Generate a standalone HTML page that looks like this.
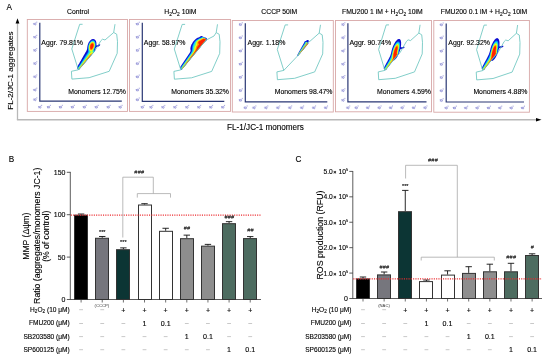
<!DOCTYPE html>
<html><head><meta charset="utf-8"><style>
html,body{margin:0;padding:0;background:#fff;width:550px;height:360px;overflow:hidden}
svg{display:block;will-change:transform}
text{font-family:"Liberation Sans", sans-serif;stroke:#000;stroke-width:0.12px}
</style></head><body>
<svg width="550" height="360" viewBox="0 0 550 360">
<defs><filter id="soft" x="-20%" y="-20%" width="140%" height="140%"><feGaussianBlur stdDeviation="0.35"/></filter></defs>
<rect width="550" height="360" fill="#fff"/>
<text x="6.5" y="10.3" font-size="8.2">A</text>
<line x1="17.5" y1="120" x2="17.5" y2="22" stroke="#b8b8b8" stroke-width="1.3"/>
<polygon points="15.6,23.5 19.4,23.5 17.5,18.2" fill="#000"/>
<line x1="16.9" y1="119.8" x2="537" y2="119.8" stroke="#b8b8b8" stroke-width="1.5"/>
<polygon points="536,118.1 541.5,119.8 536,121.5" fill="#000"/>
<text transform="translate(12.8,70.6) rotate(-90)" font-size="8.05" text-anchor="middle">FL-2/JC-1 aggregates</text>
<text x="265.5" y="129.6" font-size="8.15" text-anchor="middle">FL-1/JC-1 monomers</text>
<rect x="27.3" y="19.5" width="100.20" height="91.90" fill="none" stroke="#d8a7a7" stroke-width="0.9"/>
<text x="78" y="14.3" font-size="6.8" text-anchor="middle">Control</text>
<g fill="none" stroke="#6262c4" stroke-width="0.55"><path d="M33.45,99.15 L33.95,98.65 L33.95,100.75"/><ellipse cx="35.35" cy="99.70" rx="0.72" ry="1.02"/><path d="M36.75,97.30 L36.75,98.50"/><path d="M33.45,89.45 L33.95,88.95 L33.95,91.05"/><ellipse cx="35.35" cy="90.00" rx="0.72" ry="1.02"/><path d="M36.75,87.60 L36.75,88.80"/><path d="M33.45,76.25 L33.95,75.75 L33.95,77.85"/><ellipse cx="35.35" cy="76.80" rx="0.72" ry="1.02"/><path d="M36.75,74.40 L36.75,75.60"/><path d="M33.45,63.05 L33.95,62.55 L33.95,64.65"/><ellipse cx="35.35" cy="63.60" rx="0.72" ry="1.02"/><path d="M36.75,61.20 L36.75,62.40"/><path d="M33.45,49.85 L33.95,49.35 L33.95,51.45"/><ellipse cx="35.35" cy="50.40" rx="0.72" ry="1.02"/><path d="M36.75,48.00 L36.75,49.20"/><path d="M33.45,36.65 L33.95,36.15 L33.95,38.25"/><ellipse cx="35.35" cy="37.20" rx="0.72" ry="1.02"/><path d="M36.75,34.80 L36.75,36.00"/><path d="M33.45,23.45 L33.95,22.95 L33.95,25.05"/><ellipse cx="35.35" cy="24.00" rx="0.72" ry="1.02"/><path d="M36.75,21.60 L36.75,22.80"/><path d="M38.35,106.65 L38.85,106.15 L38.85,108.25"/><ellipse cx="40.25" cy="107.20" rx="0.72" ry="1.02"/><path d="M41.65,104.80 L41.65,106.00"/><path d="M47.05,106.65 L47.55,106.15 L47.55,108.25"/><ellipse cx="48.95" cy="107.20" rx="0.72" ry="1.02"/><path d="M50.35,104.80 L50.35,106.00"/><path d="M59.00,106.65 L59.50,106.15 L59.50,108.25"/><ellipse cx="60.90" cy="107.20" rx="0.72" ry="1.02"/><path d="M62.30,104.80 L62.30,106.00"/><path d="M70.95,106.65 L71.45,106.15 L71.45,108.25"/><ellipse cx="72.85" cy="107.20" rx="0.72" ry="1.02"/><path d="M74.25,104.80 L74.25,106.00"/><path d="M82.90,106.65 L83.40,106.15 L83.40,108.25"/><ellipse cx="84.80" cy="107.20" rx="0.72" ry="1.02"/><path d="M86.20,104.80 L86.20,106.00"/><path d="M94.85,106.65 L95.35,106.15 L95.35,108.25"/><ellipse cx="96.75" cy="107.20" rx="0.72" ry="1.02"/><path d="M98.15,104.80 L98.15,106.00"/><path d="M106.80,106.65 L107.30,106.15 L107.30,108.25"/><ellipse cx="108.70" cy="107.20" rx="0.72" ry="1.02"/><path d="M110.10,104.80 L110.10,106.00"/><path d="M118.75,106.65 L119.25,106.15 L119.25,108.25"/><ellipse cx="120.65" cy="107.20" rx="0.72" ry="1.02"/><path d="M122.05,104.80 L122.05,106.00"/></g>
<path d="M39.80,22.70 L39.80,101.20 L121.80,101.20" fill="none" stroke="#2a3774" stroke-width="1.2"/>
<g filter="url(#soft)">
<path fill="#0c0cd0" d="M94.60,39.40 L93.50,39.00 L92.80,39.00 L92.70,39.10 L92.00,39.20 L91.40,39.50 L90.80,39.90 L89.70,41.00 L88.70,42.50 L88.40,43.10 L88.40,43.30 L88.10,43.80 L88.10,44.00 L87.70,45.00 L87.60,45.80 L87.50,45.90 L87.50,46.30 L87.40,46.40 L87.40,46.90 L87.30,47.00 L87.10,49.00 L87.00,49.10 L87.00,49.40 L86.90,49.50 L86.80,50.00 L86.10,51.40 L85.50,52.30 L85.20,53.00 L85.00,53.20 L84.80,53.70 L84.60,53.90 L84.40,54.40 L84.20,54.60 L84.00,55.10 L83.80,55.30 L83.60,55.80 L83.00,56.70 L82.70,57.40 L82.50,57.60 L82.30,58.10 L82.10,58.30 L81.90,58.80 L81.70,59.00 L81.50,59.50 L81.30,59.70 L81.10,60.20 L80.90,60.40 L80.70,60.90 L80.50,61.10 L80.30,61.60 L80.10,61.80 L79.00,63.90 L78.80,64.10 L78.60,64.60 L78.40,64.80 L78.20,65.30 L78.00,65.50 L77.80,66.00 L77.60,66.20 L77.40,66.70 L77.00,67.30 L77.00,67.90 L77.30,68.50 L78.60,69.90 L78.90,69.80 L79.70,69.00 L80.20,68.30 L80.80,67.70 L81.30,67.00 L81.90,66.40 L82.40,65.70 L83.00,65.10 L83.50,64.40 L84.10,63.80 L84.60,63.10 L85.20,62.50 L85.70,61.80 L86.30,61.20 L86.80,60.50 L87.40,59.90 L87.90,59.20 L88.50,58.60 L88.50,58.50 L91.80,54.70 L91.80,54.60 L94.50,51.40 L95.40,50.00 L95.40,49.80 L95.30,49.70 L95.30,49.00 L96.00,47.60 L96.70,47.00 L97.90,46.70 L98.90,46.20 L99.60,45.70 L100.20,44.90 L100.20,44.50 L99.90,44.30 L99.40,44.30 L99.30,44.40 L99.00,44.40 L98.40,44.70 L98.20,44.70 L98.00,44.90 L97.50,45.10 L97.10,45.40 L96.70,45.40 L96.50,45.20 L96.50,44.90 L96.40,44.80 L96.40,42.80 L96.30,42.70 L96.30,42.30 L96.20,42.20 L96.10,41.50 L95.50,40.30Z"/>
<path fill="#0090ff" d="M94.10,40.60 L93.40,40.30 L92.40,40.30 L91.30,40.80 L90.10,41.90 L89.30,43.10 L88.80,44.20 L88.80,44.40 L88.40,45.40 L88.40,45.80 L88.30,45.90 L88.30,46.30 L88.20,46.40 L88.20,47.10 L88.10,47.20 L88.10,51.30 L88.00,51.40 L87.90,51.90 L87.40,52.90 L86.70,53.90 L86.60,54.20 L85.80,55.30 L85.70,55.60 L84.70,57.00 L84.60,57.30 L83.80,58.40 L83.70,58.70 L82.70,60.10 L82.60,60.40 L81.80,61.50 L81.70,61.80 L80.70,63.20 L80.60,63.50 L77.80,67.70 L77.80,68.40 L78.20,69.10 L78.70,69.70 L79.10,69.50 L79.40,69.20 L79.40,69.10 L82.70,65.30 L83.20,64.60 L83.80,64.00 L83.80,63.90 L84.40,63.30 L84.40,63.20 L87.70,59.40 L88.20,58.70 L88.80,58.10 L89.30,57.40 L89.90,56.80 L90.40,56.10 L91.00,55.50 L91.00,55.40 L92.50,53.70 L92.50,53.60 L92.90,53.20 L92.90,53.10 L93.30,52.70 L94.60,50.90 L94.30,50.50 L94.30,49.50 L94.40,49.40 L94.60,48.60 L94.90,48.10 L94.90,47.90 L95.30,47.10 L95.30,46.80 L95.50,46.30 L95.50,45.60 L95.60,45.50 L95.60,43.50 L95.50,43.40 L95.40,42.50 L94.90,41.40Z"/>
<path fill="#20e0f0" d="M94.00,41.20 L93.40,40.90 L92.30,40.90 L91.40,41.30 L90.20,42.40 L89.70,43.30 L89.50,43.50 L88.80,45.30 L88.70,46.10 L88.60,46.20 L88.60,46.70 L88.50,46.80 L88.50,49.20 L88.60,49.30 L88.60,49.90 L88.70,50.00 L88.70,50.60 L88.80,50.70 L88.80,52.00 L88.70,52.10 L88.70,52.30 L88.20,53.30 L86.90,55.30 L86.60,55.60 L85.60,57.20 L85.30,57.50 L84.30,59.10 L84.00,59.40 L83.00,61.00 L82.70,61.30 L81.70,62.90 L81.40,63.20 L80.60,64.50 L80.30,64.80 L79.50,66.10 L79.20,66.40 L78.10,68.10 L78.10,68.50 L78.40,69.10 L78.80,69.60 L79.60,68.90 L79.60,68.80 L80.20,68.20 L80.20,68.10 L83.50,64.30 L84.00,63.60 L84.60,63.00 L85.10,62.30 L85.70,61.70 L86.20,61.00 L86.80,60.40 L87.30,59.70 L87.90,59.10 L88.40,58.40 L89.00,57.80 L89.50,57.10 L90.10,56.50 L90.60,55.80 L91.20,55.20 L91.20,55.10 L93.40,52.50 L94.10,51.50 L93.70,50.90 L93.70,50.00 L93.80,49.90 L94.00,49.10 L94.20,48.80 L94.20,48.60 L94.80,47.40 L95.00,46.40 L95.10,46.30 L95.10,45.80 L95.20,45.70 L95.20,43.50 L95.10,43.40 L95.10,43.10 L95.00,43.00 L95.00,42.70 L94.80,42.40 L94.80,42.20 L94.40,41.60Z"/>
<path fill="#80ff60" d="M93.70,41.70 L93.30,41.50 L92.50,41.40 L91.50,41.80 L90.40,42.80 L89.80,43.70 L89.10,45.50 L89.10,45.90 L89.00,46.00 L89.00,46.40 L88.90,46.50 L88.90,48.80 L89.00,48.90 L89.00,49.40 L89.10,49.50 L89.20,50.20 L89.30,50.30 L89.30,50.50 L89.60,51.20 L89.60,51.50 L89.70,51.60 L89.70,52.30 L89.60,52.40 L89.60,52.60 L89.30,53.20 L88.10,55.00 L87.50,55.70 L86.30,57.50 L85.70,58.20 L85.50,58.60 L83.10,61.80 L82.40,62.90 L81.80,63.60 L81.60,64.00 L81.00,64.70 L80.30,65.80 L78.40,68.30 L78.50,68.90 L78.90,69.50 L79.80,68.60 L79.80,68.50 L80.40,67.90 L80.40,67.80 L82.60,65.30 L83.10,64.60 L83.70,64.00 L83.70,63.90 L84.30,63.30 L84.30,63.20 L86.50,60.70 L87.00,60.00 L87.60,59.40 L88.10,58.70 L88.70,58.10 L89.20,57.40 L89.80,56.80 L90.30,56.10 L90.90,55.50 L90.90,55.40 L91.90,54.30 L91.90,54.20 L92.30,53.80 L93.60,52.00 L93.30,51.90 L92.90,51.40 L92.90,50.80 L93.00,50.70 L93.10,50.20 L93.40,49.70 L93.40,49.50 L93.80,48.80 L93.80,48.60 L94.40,47.40 L94.40,47.20 L94.60,46.80 L94.60,46.50 L94.70,46.40 L94.70,46.10 L94.80,46.00 L94.80,45.20 L94.90,45.10 L94.90,44.30 L94.80,44.20 L94.80,43.60 L94.70,43.50 L94.60,42.90 L94.20,42.20Z"/>
<path fill="#ffff10" d="M93.10,52.60 L92.30,52.50 L91.80,52.30 L91.40,52.30 L91.20,52.40 L89.60,54.00 L89.40,54.40 L84.60,60.80 L84.20,61.20 L81.80,64.50 L81.40,64.90 L79.60,67.40 L78.70,68.50 L78.70,68.90 L78.90,69.30 L79.10,69.30 L79.60,68.80 L80.10,68.10 L80.70,67.50 L81.20,66.80 L81.80,66.20 L82.30,65.50 L82.90,64.90 L83.40,64.20 L84.00,63.60 L84.50,62.90 L85.10,62.30 L85.60,61.60 L86.20,61.00 L86.70,60.30 L87.30,59.70 L87.80,59.00 L90.60,55.80 L90.60,55.70 L92.10,54.00Z M93.00,42.00 L92.20,42.00 L92.10,42.10 L91.90,42.10 L90.90,42.80 L90.10,43.90 L89.80,44.50 L89.80,44.70 L89.60,45.00 L89.60,45.30 L89.40,45.70 L89.40,46.10 L89.30,46.20 L89.30,46.80 L89.20,46.90 L89.20,48.00 L89.30,48.10 L89.30,48.70 L89.40,48.80 L89.40,49.20 L89.50,49.30 L89.60,49.80 L90.10,50.70 L90.80,51.40 L91.20,51.60 L91.50,51.50 L92.10,50.90 L92.90,49.70 L94.00,47.50 L94.00,47.30 L94.20,47.00 L94.30,46.30 L94.40,46.20 L94.40,45.80 L94.50,45.70 L94.50,44.20 L94.40,44.10 L94.40,43.70 L94.30,43.60 L94.20,43.10 L93.60,42.30Z"/>
<path fill="#ff9a00" d="M92.50,53.30 L91.50,53.50 L90.80,53.90 L90.20,54.40 L88.40,56.80 L87.60,57.70 L87.30,58.20 L86.50,59.10 L86.20,59.60 L85.40,60.50 L85.10,61.00 L84.70,61.40 L83.60,62.90 L82.40,64.30 L82.10,64.80 L80.90,66.20 L80.60,66.70 L79.00,68.60 L78.90,68.80 L79.00,69.20 L79.10,69.20 L79.80,68.50 L80.30,67.80 L81.50,66.50 L82.00,65.80 L82.60,65.20 L83.10,64.50 L83.70,63.90 L84.20,63.20 L84.80,62.60 L85.30,61.90 L85.90,61.30 L86.40,60.60 L87.00,60.00 L87.50,59.30 L90.30,56.10 L90.30,56.00 L92.20,53.80Z M92.70,42.60 L92.30,42.60 L91.40,43.00 L90.80,43.60 L90.10,44.80 L90.10,45.00 L89.80,45.70 L89.70,46.90 L89.60,47.00 L89.70,48.40 L90.10,49.50 L90.40,49.90 L90.80,50.20 L91.50,50.20 L91.90,50.00 L92.40,49.50 L92.90,48.80 L93.70,47.20 L93.70,47.00 L93.90,46.60 L94.00,45.70 L94.10,45.60 L94.10,44.50 L94.00,44.40 L94.00,44.00 L93.70,43.30 L93.20,42.80Z"/>
<path fill="#ff2200" d="M91.80,54.10 L91.20,54.40 L90.50,55.00 L90.50,55.10 L90.00,55.60 L90.00,55.70 L88.30,57.70 L87.90,58.30 L87.40,58.80 L86.60,59.90 L86.10,60.40 L86.10,60.50 L83.40,63.70 L83.00,64.30 L82.50,64.80 L82.10,65.40 L79.30,68.70 L79.20,69.10 L81.60,66.30 L81.60,66.20 L82.80,64.90 L83.30,64.20 L83.90,63.60 L84.40,62.90 L85.00,62.30 L85.50,61.60 L86.10,61.00 L86.60,60.30 L87.20,59.70 L87.70,59.00 L88.30,58.40 L88.80,57.70 L90.00,56.40 L90.00,56.30 L91.50,54.60Z M92.70,43.50 L92.00,43.50 L91.60,43.70 L90.80,44.60 L90.30,45.80 L90.30,46.20 L90.20,46.30 L90.20,47.90 L90.50,48.70 L91.00,49.20 L91.60,49.20 L92.40,48.50 L93.20,47.00 L93.20,46.80 L93.50,46.10 L93.50,44.60 L93.20,43.90Z"/>
</g>
<g transform="translate(39.8,101.2) scale(1.0,1)">
<polyline points="42.80,-76.90 39.90,-76.90 32.00,-52.30 38.50,-31.40" fill="none" stroke="#62c2bb" stroke-width="0.8" vector-effect="non-scaling-stroke"/>
<polyline points="38.50,-31.40 54.50,-49.50 58.50,-56.20 61.00,-60.40 62.70,-62.00 65.20,-61.20 73.90,-68.70" fill="none" stroke="#62c2bb" stroke-width="0.8" vector-effect="non-scaling-stroke"/>
<polyline points="73.90,-68.70 75.20,-77.00" fill="none" stroke="#62c2bb" stroke-width="0.8" vector-effect="non-scaling-stroke"/>
<polyline points="38.50,-31.40 31.60,-29.90 32.10,-22.10 49.30,-23.50 69.40,-29.90 77.40,-47.90 77.70,-59.50 76.90,-67.00 73.90,-68.70" fill="none" stroke="#62c2bb" stroke-width="0.8" vector-effect="non-scaling-stroke"/>
</g>
<text x="41.3" y="45.1" font-size="6.95">Aggr. 79.81%</text>
<text x="126" y="93.8" font-size="6.9" text-anchor="end">Monomers 12.75%</text>
<rect x="129.5" y="19.5" width="101.00" height="91.90" fill="none" stroke="#d8a7a7" stroke-width="0.9"/>
<text x="180.3" y="14.3" font-size="6.8" text-anchor="middle">H<tspan font-size="4.8" dy="1.6">2</tspan><tspan dy="-1.6">O</tspan><tspan font-size="4.8" dy="1.6">2</tspan><tspan dy="-1.6"> 10iM</tspan></text>
<g fill="none" stroke="#6262c4" stroke-width="0.55"><path d="M135.95,99.25 L136.45,98.75 L136.45,100.85"/><ellipse cx="137.85" cy="99.80" rx="0.72" ry="1.02"/><path d="M139.25,97.40 L139.25,98.60"/><path d="M135.95,89.55 L136.45,89.05 L136.45,91.15"/><ellipse cx="137.85" cy="90.10" rx="0.72" ry="1.02"/><path d="M139.25,87.70 L139.25,88.90"/><path d="M135.95,76.35 L136.45,75.85 L136.45,77.95"/><ellipse cx="137.85" cy="76.90" rx="0.72" ry="1.02"/><path d="M139.25,74.50 L139.25,75.70"/><path d="M135.95,63.15 L136.45,62.65 L136.45,64.75"/><ellipse cx="137.85" cy="63.70" rx="0.72" ry="1.02"/><path d="M139.25,61.30 L139.25,62.50"/><path d="M135.95,49.95 L136.45,49.45 L136.45,51.55"/><ellipse cx="137.85" cy="50.50" rx="0.72" ry="1.02"/><path d="M139.25,48.10 L139.25,49.30"/><path d="M135.95,36.75 L136.45,36.25 L136.45,38.35"/><ellipse cx="137.85" cy="37.30" rx="0.72" ry="1.02"/><path d="M139.25,34.90 L139.25,36.10"/><path d="M135.95,23.55 L136.45,23.05 L136.45,25.15"/><ellipse cx="137.85" cy="24.10" rx="0.72" ry="1.02"/><path d="M139.25,21.70 L139.25,22.90"/><path d="M140.85,106.75 L141.35,106.25 L141.35,108.35"/><ellipse cx="142.75" cy="107.30" rx="0.72" ry="1.02"/><path d="M144.15,104.90 L144.15,106.10"/><path d="M149.55,106.75 L150.05,106.25 L150.05,108.35"/><ellipse cx="151.45" cy="107.30" rx="0.72" ry="1.02"/><path d="M152.85,104.90 L152.85,106.10"/><path d="M161.50,106.75 L162.00,106.25 L162.00,108.35"/><ellipse cx="163.40" cy="107.30" rx="0.72" ry="1.02"/><path d="M164.80,104.90 L164.80,106.10"/><path d="M173.45,106.75 L173.95,106.25 L173.95,108.35"/><ellipse cx="175.35" cy="107.30" rx="0.72" ry="1.02"/><path d="M176.75,104.90 L176.75,106.10"/><path d="M185.40,106.75 L185.90,106.25 L185.90,108.35"/><ellipse cx="187.30" cy="107.30" rx="0.72" ry="1.02"/><path d="M188.70,104.90 L188.70,106.10"/><path d="M197.35,106.75 L197.85,106.25 L197.85,108.35"/><ellipse cx="199.25" cy="107.30" rx="0.72" ry="1.02"/><path d="M200.65,104.90 L200.65,106.10"/><path d="M209.30,106.75 L209.80,106.25 L209.80,108.35"/><ellipse cx="211.20" cy="107.30" rx="0.72" ry="1.02"/><path d="M212.60,104.90 L212.60,106.10"/><path d="M221.25,106.75 L221.75,106.25 L221.75,108.35"/><ellipse cx="223.15" cy="107.30" rx="0.72" ry="1.02"/><path d="M224.55,104.90 L224.55,106.10"/></g>
<path d="M142.30,22.80 L142.30,101.30 L224.30,101.30" fill="none" stroke="#2a3774" stroke-width="1.2"/>
<g filter="url(#soft)">
<path fill="#0c0cd0" d="M206.40,38.00 L205.90,37.70 L205.70,37.70 L205.30,37.50 L204.50,37.40 L201.80,35.90 L200.90,35.90 L200.30,36.50 L199.50,37.10 L198.90,37.40 L198.10,37.60 L196.30,38.60 L195.50,39.30 L195.40,39.30 L193.50,41.30 L192.50,42.70 L191.90,43.90 L191.70,44.10 L190.80,46.30 L190.80,46.60 L190.70,46.70 L190.70,47.00 L190.50,47.50 L190.50,48.20 L190.40,48.30 L190.40,49.20 L190.50,49.30 L190.50,49.80 L190.60,49.90 L190.60,50.80 L190.50,50.90 L190.40,51.50 L189.80,52.70 L180.40,66.80 L180.40,67.00 L180.20,67.40 L180.20,68.10 L180.50,68.70 L181.40,69.70 L181.70,69.70 L182.70,68.70 L182.70,68.60 L183.70,67.50 L184.10,66.90 L184.60,66.40 L185.00,65.80 L185.50,65.30 L185.90,64.70 L187.80,62.50 L188.20,61.90 L188.70,61.40 L189.10,60.80 L191.00,58.60 L191.40,58.00 L191.90,57.50 L192.30,56.90 L192.80,56.40 L192.80,56.30 L195.10,53.60 L195.10,53.50 L196.00,52.50 L196.40,51.90 L197.90,50.20 L198.30,49.60 L198.80,49.10 L199.20,48.50 L199.70,48.00 L200.10,47.40 L200.60,46.90 L200.60,46.80 L202.40,44.70 L202.80,44.10 L203.40,43.50 L203.40,43.40 L204.80,42.00 L205.40,41.60 L206.30,40.70 L206.60,40.30 L206.90,39.60 L206.90,38.70 L206.70,38.30Z"/>
<path fill="#0090ff" d="M205.40,38.40 L204.50,37.90 L204.30,37.70 L203.10,37.10 L202.90,37.10 L202.50,36.90 L201.80,36.90 L200.70,37.70 L200.00,38.00 L199.60,38.30 L199.40,38.30 L198.00,39.00 L197.80,39.20 L196.60,39.80 L195.70,40.60 L195.60,40.60 L194.50,41.80 L193.50,43.30 L192.70,44.90 L192.70,45.10 L192.40,45.70 L192.40,46.00 L192.20,46.50 L192.20,47.00 L192.10,47.10 L192.10,49.50 L192.00,49.60 L191.90,50.70 L191.80,50.80 L191.60,51.60 L190.80,53.10 L189.40,55.20 L189.10,55.50 L186.70,59.10 L186.40,59.40 L185.10,61.40 L184.80,61.70 L184.40,62.40 L184.10,62.70 L183.70,63.40 L183.40,63.70 L182.80,64.70 L182.50,65.00 L182.10,65.70 L181.20,66.90 L181.00,67.30 L181.00,68.30 L181.20,68.80 L181.60,69.40 L181.80,69.40 L182.20,69.10 L183.00,68.20 L183.40,67.60 L185.30,65.40 L185.70,64.80 L186.20,64.30 L186.60,63.70 L188.50,61.50 L188.50,61.40 L190.30,59.30 L190.70,58.70 L191.70,57.60 L191.70,57.50 L193.50,55.40 L193.90,54.80 L194.90,53.70 L194.90,53.60 L195.80,52.60 L196.20,52.00 L197.20,50.90 L197.60,50.30 L200.40,47.00 L200.40,46.90 L202.20,44.80 L202.60,44.20 L205.70,40.60 L206.20,39.90 L206.40,39.50 L206.40,39.30Z"/>
<path fill="#20e0f0" d="M206.30,39.30 L204.30,37.90 L202.80,37.30 L202.30,37.30 L201.40,37.90 L200.00,38.60 L199.80,38.60 L197.70,39.70 L196.40,40.60 L195.30,41.70 L194.60,42.70 L193.60,44.70 L193.60,44.90 L193.30,45.60 L193.20,46.40 L193.10,46.50 L193.10,46.90 L193.00,47.00 L193.00,47.60 L192.90,47.70 L192.80,49.70 L192.70,49.80 L192.60,50.80 L192.30,51.40 L192.30,51.60 L191.80,52.60 L191.40,53.10 L190.90,54.00 L190.60,54.30 L190.20,55.00 L189.40,56.00 L187.80,58.40 L187.50,58.70 L187.30,59.10 L187.00,59.40 L186.80,59.80 L185.50,61.50 L185.10,62.20 L184.80,62.50 L184.60,62.90 L184.30,63.20 L184.10,63.60 L183.80,63.90 L183.60,64.30 L183.30,64.60 L183.10,65.00 L182.80,65.30 L182.60,65.70 L181.40,67.30 L181.40,67.50 L181.30,67.60 L181.30,68.20 L181.40,68.30 L181.50,68.80 L181.80,69.30 L182.70,68.50 L183.10,67.90 L183.60,67.40 L183.60,67.30 L184.10,66.80 L184.10,66.70 L185.90,64.60 L186.30,64.00 L188.20,61.80 L188.60,61.20 L189.60,60.10 L190.00,59.50 L190.50,59.00 L190.90,58.40 L192.80,56.20 L192.80,56.10 L194.60,54.00 L195.00,53.40 L196.00,52.30 L196.00,52.20 L196.90,51.20 L197.30,50.60 L198.30,49.50 L198.70,48.90 L201.50,45.60 L201.50,45.50 L202.40,44.50 L202.80,43.90 L205.80,40.40 L206.30,39.60Z"/>
<path fill="#80ff60" d="M205.00,38.50 L204.50,38.30 L204.10,38.00 L203.90,38.00 L203.60,37.80 L203.30,37.80 L203.20,37.70 L202.60,37.70 L202.40,37.90 L200.60,38.80 L200.40,38.80 L199.70,39.20 L199.50,39.20 L198.90,39.50 L198.70,39.70 L198.20,39.90 L197.20,40.60 L196.20,41.60 L195.90,42.00 L195.40,43.00 L195.00,44.40 L194.70,44.90 L194.70,45.10 L194.40,45.60 L194.40,45.80 L194.20,46.10 L194.20,46.30 L194.00,46.70 L193.90,47.50 L193.80,47.60 L193.80,48.00 L193.70,48.10 L193.70,48.90 L193.60,49.00 L193.60,49.80 L193.50,49.90 L193.50,50.30 L193.40,50.40 L193.30,51.00 L192.80,52.10 L192.10,53.10 L192.00,53.40 L191.70,53.70 L190.30,55.80 L189.70,56.50 L189.50,56.90 L188.40,58.30 L187.70,59.40 L187.10,60.10 L186.90,60.50 L186.30,61.20 L186.10,61.60 L185.50,62.30 L185.30,62.70 L184.70,63.40 L184.50,63.80 L181.80,67.40 L181.60,68.10 L181.70,68.20 L181.70,68.60 L182.00,69.10 L182.90,68.20 L183.30,67.60 L184.30,66.50 L184.70,65.90 L185.20,65.40 L185.20,65.30 L186.10,64.30 L186.50,63.70 L189.80,59.80 L189.80,59.70 L191.60,57.60 L192.00,57.00 L193.00,55.90 L193.00,55.80 L193.90,54.80 L194.30,54.20 L194.80,53.70 L194.80,53.60 L195.30,53.10 L195.30,53.00 L196.20,52.00 L196.60,51.40 L198.50,49.20 L198.90,48.60 L199.90,47.50 L199.90,47.40 L201.70,45.30 L202.10,44.70 L205.50,40.70 L206.20,39.70 L206.20,39.40Z"/>
<path fill="#ffff10" d="M205.90,39.30 L205.50,39.10 L205.20,38.80 L204.10,38.20 L203.50,38.10 L203.40,38.00 L203.00,38.00 L202.60,38.30 L201.60,38.80 L201.40,38.80 L200.70,39.20 L200.50,39.20 L199.80,39.60 L199.60,39.60 L199.00,40.00 L198.50,40.20 L197.80,40.70 L197.00,41.50 L196.60,42.10 L196.40,42.60 L196.40,42.90 L196.30,43.00 L196.30,44.00 L196.20,44.10 L196.10,44.70 L195.00,46.70 L195.00,46.90 L194.70,47.60 L194.40,49.90 L194.30,50.00 L194.20,50.60 L193.70,51.70 L192.20,54.00 L191.60,54.70 L190.60,56.20 L189.40,57.70 L189.20,58.10 L188.00,59.60 L187.80,60.00 L182.00,67.70 L181.90,68.30 L182.00,68.40 L182.10,68.90 L182.60,68.50 L182.60,68.40 L183.60,67.30 L184.00,66.70 L184.50,66.20 L184.90,65.60 L185.90,64.50 L185.90,64.40 L188.20,61.70 L188.20,61.60 L189.10,60.60 L189.50,60.00 L190.50,58.90 L190.50,58.80 L191.40,57.80 L191.80,57.20 L192.80,56.10 L192.80,56.00 L193.70,55.00 L193.70,54.90 L194.60,53.90 L195.50,52.70 L196.00,52.20 L196.40,51.60 L197.40,50.50 L197.40,50.40 L198.30,49.40 L198.70,48.80 L199.70,47.70 L199.70,47.60 L201.50,45.50 L201.90,44.90 L205.30,40.90 L205.30,40.80 L206.00,40.00 L206.20,39.60Z"/>
<path fill="#ff9a00" d="M206.10,39.60 L204.90,38.80 L204.30,38.50 L203.50,38.30 L201.00,39.60 L200.80,39.60 L199.00,40.50 L198.30,41.00 L197.80,41.50 L197.30,42.50 L197.30,43.70 L197.40,43.80 L197.30,44.60 L196.10,46.70 L196.10,46.90 L195.90,47.20 L195.90,47.50 L195.70,47.90 L195.70,48.30 L195.60,48.40 L195.50,49.20 L195.40,49.30 L195.20,50.10 L194.50,51.50 L193.10,53.60 L191.90,55.10 L191.70,55.50 L186.90,61.90 L186.50,62.30 L184.40,65.20 L184.00,65.60 L182.80,67.30 L182.40,67.70 L182.20,68.10 L182.20,68.60 L182.30,68.70 L185.20,65.30 L185.60,64.70 L186.10,64.20 L186.10,64.10 L187.50,62.50 L187.50,62.40 L188.40,61.40 L188.80,60.80 L191.20,58.00 L191.60,57.40 L193.50,55.20 L193.90,54.60 L195.80,52.40 L196.20,51.80 L198.10,49.60 L198.50,49.00 L200.40,46.80 L200.40,46.70 L202.70,44.00 L203.10,43.40 L205.10,41.10 L205.10,41.00 L205.90,40.10Z"/>
<path fill="#ff2200" d="M205.90,39.60 L204.30,38.70 L203.60,38.70 L203.40,38.90 L202.10,39.60 L201.10,40.30 L200.30,40.70 L200.10,40.70 L199.20,41.20 L198.50,41.90 L198.30,42.40 L198.30,42.90 L198.50,43.40 L199.00,44.00 L199.10,44.40 L198.70,45.10 L198.30,45.50 L197.60,46.50 L197.30,47.10 L197.30,47.30 L197.00,47.80 L196.80,48.50 L195.60,50.80 L192.70,54.90 L192.30,55.30 L187.60,61.60 L187.20,62.00 L185.60,64.20 L185.20,64.60 L183.90,66.40 L182.50,68.10 L182.50,68.40 L183.00,67.90 L183.00,67.80 L184.90,65.60 L185.30,65.00 L186.30,63.90 L186.70,63.30 L187.70,62.20 L188.10,61.60 L189.10,60.50 L189.50,59.90 L190.50,58.80 L190.90,58.20 L194.20,54.30 L194.60,53.70 L197.90,49.80 L198.30,49.20 L199.30,48.10 L199.30,48.00 L200.20,47.00 L200.20,46.90 L201.10,45.90 L202.00,44.70 L202.50,44.20 L202.90,43.60 L205.40,40.70 L206.00,39.80Z"/>
</g>
<g transform="translate(142.3,101.3) scale(1.0,1)">
<polyline points="42.80,-76.90 39.90,-76.90 32.00,-52.30 38.50,-31.40" fill="none" stroke="#62c2bb" stroke-width="0.8" vector-effect="non-scaling-stroke"/>
<polyline points="38.50,-31.40 63.80,-61.20 71.70,-65.30 73.90,-68.70" fill="none" stroke="#62c2bb" stroke-width="0.8" vector-effect="non-scaling-stroke"/>
<polyline points="73.90,-68.70 75.20,-77.00" fill="none" stroke="#62c2bb" stroke-width="0.8" vector-effect="non-scaling-stroke"/>
<polyline points="38.50,-31.40 31.60,-29.90 32.10,-22.10 49.30,-23.50 69.40,-29.90 77.40,-47.90 77.70,-59.50 76.90,-67.00 73.90,-68.70" fill="none" stroke="#62c2bb" stroke-width="0.8" vector-effect="non-scaling-stroke"/>
</g>
<text x="143.8" y="45.1" font-size="6.95">Aggr. 58.97%</text>
<text x="229" y="93.8" font-size="6.9" text-anchor="end">Monomers 35.32%</text>
<rect x="232.3" y="20.5" width="101.00" height="91.50" fill="none" stroke="#d8a7a7" stroke-width="0.9"/>
<text x="279.2" y="14.3" font-size="6.8" text-anchor="middle">CCCP 50iM</text>
<g fill="none" stroke="#6262c4" stroke-width="0.55"><path d="M238.95,99.75 L239.45,99.25 L239.45,101.35"/><ellipse cx="240.85" cy="100.30" rx="0.72" ry="1.02"/><path d="M242.25,97.90 L242.25,99.10"/><path d="M238.95,90.05 L239.45,89.55 L239.45,91.65"/><ellipse cx="240.85" cy="90.60" rx="0.72" ry="1.02"/><path d="M242.25,88.20 L242.25,89.40"/><path d="M238.95,76.85 L239.45,76.35 L239.45,78.45"/><ellipse cx="240.85" cy="77.40" rx="0.72" ry="1.02"/><path d="M242.25,75.00 L242.25,76.20"/><path d="M238.95,63.65 L239.45,63.15 L239.45,65.25"/><ellipse cx="240.85" cy="64.20" rx="0.72" ry="1.02"/><path d="M242.25,61.80 L242.25,63.00"/><path d="M238.95,50.45 L239.45,49.95 L239.45,52.05"/><ellipse cx="240.85" cy="51.00" rx="0.72" ry="1.02"/><path d="M242.25,48.60 L242.25,49.80"/><path d="M238.95,37.25 L239.45,36.75 L239.45,38.85"/><ellipse cx="240.85" cy="37.80" rx="0.72" ry="1.02"/><path d="M242.25,35.40 L242.25,36.60"/><path d="M238.95,24.05 L239.45,23.55 L239.45,25.65"/><ellipse cx="240.85" cy="24.60" rx="0.72" ry="1.02"/><path d="M242.25,22.20 L242.25,23.40"/><path d="M243.85,107.25 L244.35,106.75 L244.35,108.85"/><ellipse cx="245.75" cy="107.80" rx="0.72" ry="1.02"/><path d="M247.15,105.40 L247.15,106.60"/><path d="M252.55,107.25 L253.05,106.75 L253.05,108.85"/><ellipse cx="254.45" cy="107.80" rx="0.72" ry="1.02"/><path d="M255.85,105.40 L255.85,106.60"/><path d="M264.50,107.25 L265.00,106.75 L265.00,108.85"/><ellipse cx="266.40" cy="107.80" rx="0.72" ry="1.02"/><path d="M267.80,105.40 L267.80,106.60"/><path d="M276.45,107.25 L276.95,106.75 L276.95,108.85"/><ellipse cx="278.35" cy="107.80" rx="0.72" ry="1.02"/><path d="M279.75,105.40 L279.75,106.60"/><path d="M288.40,107.25 L288.90,106.75 L288.90,108.85"/><ellipse cx="290.30" cy="107.80" rx="0.72" ry="1.02"/><path d="M291.70,105.40 L291.70,106.60"/><path d="M300.35,107.25 L300.85,106.75 L300.85,108.85"/><ellipse cx="302.25" cy="107.80" rx="0.72" ry="1.02"/><path d="M303.65,105.40 L303.65,106.60"/><path d="M312.30,107.25 L312.80,106.75 L312.80,108.85"/><ellipse cx="314.20" cy="107.80" rx="0.72" ry="1.02"/><path d="M315.60,105.40 L315.60,106.60"/><path d="M324.25,107.25 L324.75,106.75 L324.75,108.85"/><ellipse cx="326.15" cy="107.80" rx="0.72" ry="1.02"/><path d="M327.55,105.40 L327.55,106.60"/></g>
<path d="M245.30,23.30 L245.30,101.80 L327.30,101.80" fill="none" stroke="#2a3774" stroke-width="1.2"/>
<g filter="url(#soft)">
<path fill="#0c0cd0" d="M308.40,40.20 L308.20,40.10 L307.30,40.10 L306.50,40.50 L305.90,41.10 L305.70,41.00 L305.10,41.00 L304.80,41.20 L303.30,44.20 L303.10,44.40 L302.70,45.30 L302.50,45.50 L302.10,46.40 L301.90,46.60 L301.50,47.50 L301.30,47.70 L300.90,48.60 L300.70,48.80 L300.40,49.50 L300.20,49.70 L299.80,50.60 L299.60,50.80 L299.30,51.50 L299.10,51.70 L298.70,52.60 L298.50,52.80 L298.20,53.50 L298.00,53.70 L297.60,54.50 L297.60,54.70 L297.40,55.00 L297.40,55.60 L297.60,56.00 L297.90,55.90 L298.30,55.60 L298.30,55.50 L299.10,54.70 L299.10,54.60 L299.60,54.10 L299.60,54.00 L300.10,53.50 L300.10,53.40 L300.60,52.90 L300.60,52.80 L301.10,52.30 L301.10,52.20 L308.10,43.90 L308.40,43.40 L308.40,43.20 L307.90,42.70 L308.50,42.10 L308.80,41.50 L308.80,40.70Z"/>
<path fill="#0090ff" d="M306.80,42.00 L305.90,41.60 L305.60,41.60 L305.30,41.80 L304.00,44.40 L303.80,44.60 L303.70,44.90 L303.50,45.10 L303.40,45.40 L303.20,45.60 L303.10,45.90 L302.90,46.10 L302.80,46.40 L302.60,46.60 L302.50,46.90 L302.30,47.10 L302.20,47.40 L302.00,47.60 L301.90,47.90 L301.70,48.10 L301.60,48.40 L301.40,48.60 L301.30,48.90 L301.10,49.10 L301.00,49.40 L300.80,49.60 L300.70,49.90 L300.50,50.10 L300.40,50.40 L300.20,50.60 L299.20,52.40 L298.20,53.90 L297.80,54.70 L297.80,55.00 L297.70,55.10 L297.80,55.70 L298.10,55.60 L298.80,54.90 L298.80,54.80 L299.90,53.60 L299.90,53.50 L300.40,53.00 L300.40,52.90 L300.90,52.40 L300.90,52.30 L301.40,51.80 L301.40,51.70 L301.90,51.20 L301.90,51.10 L302.40,50.60 L302.40,50.50 L302.90,50.00 L302.90,49.90 L303.40,49.40 L303.40,49.30 L303.90,48.80 L303.90,48.70 L304.40,48.20 L304.40,48.10 L304.90,47.60 L304.90,47.50 L305.40,47.00 L305.40,46.90 L308.10,43.70 L308.20,43.20Z"/>
<path fill="#20e0f0" d="M307.20,42.50 L306.60,42.10 L306.10,41.90 L305.80,41.90 L305.60,42.10 L305.50,42.50 L304.30,44.70 L302.70,47.10 L302.10,48.20 L301.50,49.00 L300.90,50.10 L300.30,50.90 L300.20,51.20 L299.60,52.00 L299.50,52.30 L298.20,54.20 L297.90,54.90 L297.90,55.60 L298.00,55.60 L299.60,53.90 L299.60,53.80 L300.10,53.30 L300.10,53.20 L300.60,52.70 L300.60,52.60 L301.10,52.10 L301.10,52.00 L301.60,51.50 L301.60,51.40 L302.10,50.90 L302.10,50.80 L302.60,50.30 L302.60,50.20 L308.00,43.80 L308.20,43.30 L308.10,43.30Z"/>
<path fill="#80ff60" d="M307.80,43.10 L306.50,42.30 L306.00,42.30 L305.90,42.70 L305.00,44.40 L303.00,47.30 L302.90,47.60 L300.90,50.60 L300.60,50.90 L298.20,54.50 L298.20,54.70 L298.10,54.80 L298.10,55.40 L298.80,54.80 L298.80,54.70 L299.30,54.20 L299.30,54.10 L299.80,53.60 L299.80,53.50 L300.30,53.00 L300.30,52.90 L300.80,52.40 L300.80,52.30 L301.30,51.80 L301.30,51.70 L301.80,51.20 L301.80,51.10 L302.30,50.60 L302.30,50.50 L302.80,50.00 L302.80,49.90 L303.30,49.40 L303.30,49.30 L303.80,48.80 L303.80,48.70 L304.30,48.20 L304.30,48.10 L304.80,47.60 L304.80,47.50 L305.30,47.00 L305.80,46.30 L308.10,43.60 L308.10,43.40Z"/>
<path fill="#ffff10" d="M306.70,42.60 L306.40,42.60 L306.30,42.70 L305.90,43.70 L304.60,45.70 L304.30,46.00 L302.80,48.30 L302.50,48.60 L302.10,49.30 L301.80,49.60 L301.40,50.30 L301.10,50.60 L300.70,51.30 L300.40,51.60 L300.20,52.00 L299.90,52.30 L299.50,53.00 L298.30,54.60 L298.20,55.30 L299.00,54.50 L299.00,54.40 L299.50,53.90 L299.50,53.80 L300.00,53.30 L300.00,53.20 L300.50,52.70 L301.00,52.00 L301.60,51.40 L301.60,51.30 L307.60,44.20 L307.60,44.10 L308.00,43.70 L308.00,43.40Z"/>
<path fill="#ff9a00" d="M307.90,43.40 L307.60,43.30 L307.20,43.00 L307.00,43.00 L306.90,42.90 L306.70,43.00 L306.40,43.70 L306.20,43.90 L305.70,44.80 L304.10,46.90 L303.40,48.00 L302.50,49.10 L302.30,49.50 L301.70,50.20 L301.50,50.60 L298.40,54.70 L298.30,55.10 L298.40,55.10 L299.30,54.10 L299.30,54.00 L299.80,53.50 L299.80,53.40 L300.30,52.90 L300.30,52.80 L300.80,52.30 L300.80,52.20 L301.30,51.70 L301.30,51.60 L301.80,51.10 L301.80,51.00 L302.30,50.50 L302.30,50.40 L302.80,49.90 L302.80,49.80 L303.30,49.30 L303.80,48.60 L304.40,48.00 L304.40,47.90 L307.90,43.80 L308.00,43.60Z"/>
<path fill="#ff2200" d="M307.90,43.50 L307.50,43.30 L307.10,43.30 L305.50,45.70 L304.00,47.70 L303.60,48.10 L302.10,50.20 L301.70,50.60 L301.10,51.50 L300.70,51.90 L300.40,52.40 L298.60,54.60 L298.50,54.90 L299.00,54.40 L299.00,54.30 L299.50,53.80 L299.50,53.70 L300.00,53.20 L300.00,53.10 L300.50,52.60 L300.50,52.50 L301.00,52.00 L301.00,51.90 L301.50,51.40 L302.00,50.70 L302.60,50.10 L302.60,50.00 L303.10,49.50 L303.10,49.40 L303.60,48.90 L303.60,48.80 L304.10,48.30 L304.10,48.20 L304.60,47.70 L304.60,47.60 L305.10,47.10 L305.10,47.00 L305.60,46.50 L306.10,45.80 L307.70,44.00 L307.90,43.70Z"/>
</g>
<g transform="translate(245.3,101.8) scale(1.0,1)">
<polyline points="42.80,-76.90 39.90,-76.90 32.00,-52.30 38.50,-31.40" fill="none" stroke="#62c2bb" stroke-width="0.8" vector-effect="non-scaling-stroke"/>
<polyline points="38.50,-31.40 52.30,-45.90 62.20,-58.90 64.50,-60.40 73.90,-68.70" fill="none" stroke="#62c2bb" stroke-width="0.8" vector-effect="non-scaling-stroke"/>
<polyline points="73.90,-68.70 75.20,-77.00" fill="none" stroke="#62c2bb" stroke-width="0.8" vector-effect="non-scaling-stroke"/>
<polyline points="38.50,-31.40 31.60,-29.90 32.10,-22.10 49.30,-23.50 69.40,-29.90 77.40,-47.90 77.70,-59.50 76.90,-67.00 73.90,-68.70" fill="none" stroke="#62c2bb" stroke-width="0.8" vector-effect="non-scaling-stroke"/>
</g>
<text x="247.6" y="45.1" font-size="6.95">Aggr. 1.18%</text>
<text x="332.5" y="93.8" font-size="6.9" text-anchor="end">Monomers 98.47%</text>
<rect x="335.5" y="20.5" width="96.00" height="91.30" fill="none" stroke="#d8a7a7" stroke-width="0.9"/>
<text x="382.4" y="14.3" font-size="6.8" text-anchor="middle">FMU200 1 iM + H<tspan font-size="4.8" dy="1.6">2</tspan><tspan dy="-1.6">O</tspan><tspan font-size="4.8" dy="1.6">2</tspan><tspan dy="-1.6"> 10iM</tspan></text>
<g fill="none" stroke="#6262c4" stroke-width="0.55"><path d="M341.55,99.75 L342.05,99.25 L342.05,101.35"/><ellipse cx="343.45" cy="100.30" rx="0.72" ry="1.02"/><path d="M344.85,97.90 L344.85,99.10"/><path d="M341.55,90.05 L342.05,89.55 L342.05,91.65"/><ellipse cx="343.45" cy="90.60" rx="0.72" ry="1.02"/><path d="M344.85,88.20 L344.85,89.40"/><path d="M341.55,76.85 L342.05,76.35 L342.05,78.45"/><ellipse cx="343.45" cy="77.40" rx="0.72" ry="1.02"/><path d="M344.85,75.00 L344.85,76.20"/><path d="M341.55,63.65 L342.05,63.15 L342.05,65.25"/><ellipse cx="343.45" cy="64.20" rx="0.72" ry="1.02"/><path d="M344.85,61.80 L344.85,63.00"/><path d="M341.55,50.45 L342.05,49.95 L342.05,52.05"/><ellipse cx="343.45" cy="51.00" rx="0.72" ry="1.02"/><path d="M344.85,48.60 L344.85,49.80"/><path d="M341.55,37.25 L342.05,36.75 L342.05,38.85"/><ellipse cx="343.45" cy="37.80" rx="0.72" ry="1.02"/><path d="M344.85,35.40 L344.85,36.60"/><path d="M341.55,24.05 L342.05,23.55 L342.05,25.65"/><ellipse cx="343.45" cy="24.60" rx="0.72" ry="1.02"/><path d="M344.85,22.20 L344.85,23.40"/><path d="M346.45,107.25 L346.95,106.75 L346.95,108.85"/><ellipse cx="348.35" cy="107.80" rx="0.72" ry="1.02"/><path d="M349.75,105.40 L349.75,106.60"/><path d="M354.80,107.25 L355.30,106.75 L355.30,108.85"/><ellipse cx="356.70" cy="107.80" rx="0.72" ry="1.02"/><path d="M358.10,105.40 L358.10,106.60"/><path d="M366.27,107.25 L366.77,106.75 L366.77,108.85"/><ellipse cx="368.17" cy="107.80" rx="0.72" ry="1.02"/><path d="M369.57,105.40 L369.57,106.60"/><path d="M377.75,107.25 L378.25,106.75 L378.25,108.85"/><ellipse cx="379.65" cy="107.80" rx="0.72" ry="1.02"/><path d="M381.05,105.40 L381.05,106.60"/><path d="M389.22,107.25 L389.72,106.75 L389.72,108.85"/><ellipse cx="391.12" cy="107.80" rx="0.72" ry="1.02"/><path d="M392.52,105.40 L392.52,106.60"/><path d="M400.69,107.25 L401.19,106.75 L401.19,108.85"/><ellipse cx="402.59" cy="107.80" rx="0.72" ry="1.02"/><path d="M403.99,105.40 L403.99,106.60"/><path d="M412.16,107.25 L412.66,106.75 L412.66,108.85"/><ellipse cx="414.06" cy="107.80" rx="0.72" ry="1.02"/><path d="M415.46,105.40 L415.46,106.60"/><path d="M423.63,107.25 L424.13,106.75 L424.13,108.85"/><ellipse cx="425.53" cy="107.80" rx="0.72" ry="1.02"/><path d="M426.93,105.40 L426.93,106.60"/></g>
<path d="M347.90,23.30 L347.90,101.80 L426.50,101.80" fill="none" stroke="#2a3774" stroke-width="1.2"/>
<g filter="url(#soft)">
<path fill="#0c0cd0" d="M399.60,39.10 L399.40,39.10 L399.30,39.00 L398.70,39.00 L397.90,39.30 L397.20,39.80 L396.10,40.90 L395.20,42.10 L394.60,43.20 L394.40,43.40 L393.30,45.60 L393.30,45.80 L392.80,46.80 L392.70,47.30 L392.50,47.60 L392.50,47.80 L392.00,49.10 L392.00,49.40 L391.80,49.80 L391.80,50.10 L391.70,50.20 L391.70,50.50 L391.60,50.60 L391.60,50.90 L391.40,51.40 L391.40,51.80 L391.30,51.90 L391.30,52.30 L391.20,52.40 L391.00,53.50 L390.90,53.60 L390.80,54.20 L390.70,54.30 L390.50,55.10 L390.30,55.40 L390.20,55.90 L388.80,58.80 L388.60,59.00 L388.10,60.10 L387.90,60.30 L387.50,61.20 L387.30,61.40 L386.90,62.30 L386.70,62.50 L386.20,63.60 L386.00,63.80 L385.60,64.70 L385.40,64.90 L385.00,65.80 L384.80,66.00 L384.40,66.90 L384.20,67.10 L383.80,67.90 L383.80,68.40 L384.00,68.80 L385.50,70.20 L385.60,70.20 L386.30,69.50 L392.30,61.40 L393.10,60.60 L393.90,60.40 L394.80,59.80 L396.30,58.20 L397.60,56.20 L398.70,54.00 L398.70,53.80 L399.00,53.30 L399.30,52.30 L399.50,52.00 L400.20,49.70 L400.70,49.10 L401.10,48.90 L401.60,48.90 L401.70,48.80 L402.10,48.80 L402.20,48.70 L402.50,48.70 L402.60,48.60 L403.10,48.50 L404.00,48.00 L404.50,47.50 L404.50,47.00 L404.20,46.80 L403.10,46.80 L403.00,46.90 L402.70,46.90 L401.70,47.30 L401.10,47.30 L400.90,47.10 L400.90,46.10 L401.00,46.00 L401.00,45.20 L401.10,45.10 L401.10,42.00 L401.00,41.90 L401.00,41.40 L400.90,41.30 L400.80,40.60 L400.40,39.80Z"/>
<path fill="#0090ff" d="M398.80,41.40 L397.90,41.40 L397.30,41.70 L396.10,42.80 L394.80,44.70 L393.80,46.70 L393.80,46.90 L393.40,47.70 L393.40,47.90 L392.70,49.80 L392.70,50.10 L392.50,50.50 L392.50,50.80 L392.40,50.90 L392.40,51.20 L392.30,51.30 L392.30,51.60 L392.20,51.70 L392.20,52.00 L392.10,52.10 L392.10,52.40 L392.00,52.50 L392.00,52.80 L391.90,52.90 L391.90,53.20 L391.80,53.30 L391.80,53.60 L391.70,53.70 L391.40,55.20 L391.30,55.30 L391.20,55.90 L391.10,56.00 L390.80,57.10 L390.60,57.40 L390.60,57.60 L389.20,60.30 L389.00,60.50 L388.50,61.50 L387.40,63.20 L387.20,63.70 L386.10,65.40 L385.90,65.90 L385.70,66.10 L385.60,66.40 L384.50,68.10 L384.50,68.30 L384.40,68.40 L384.50,68.50 L384.50,68.80 L385.10,69.60 L385.60,70.00 L386.20,69.50 L386.40,69.10 L389.10,65.60 L389.30,65.20 L392.60,60.80 L396.60,55.90 L397.10,55.00 L397.50,54.50 L397.60,54.20 L398.00,53.70 L398.10,53.40 L398.30,53.20 L398.50,52.70 L398.70,52.50 L398.70,52.30 L398.80,52.20 L398.80,51.20 L398.90,51.10 L398.90,50.80 L399.00,50.70 L399.00,50.50 L399.30,49.80 L399.30,49.50 L399.60,48.80 L399.60,48.50 L399.70,48.40 L399.70,47.80 L399.80,47.70 L399.80,47.10 L399.90,47.00 L399.90,46.20 L400.00,46.10 L400.00,43.70 L399.90,43.60 L399.90,43.10 L399.80,43.00 L399.60,42.20 L399.40,41.90Z"/>
<path fill="#20e0f0" d="M398.50,42.40 L397.70,42.40 L397.60,42.50 L397.40,42.50 L396.70,43.00 L396.20,43.50 L395.00,45.20 L394.10,47.00 L394.10,47.20 L393.80,47.70 L393.70,48.20 L393.50,48.50 L393.50,48.70 L393.20,49.40 L393.20,49.70 L393.00,50.10 L393.00,50.40 L392.80,50.80 L392.80,51.10 L392.70,51.20 L392.70,51.50 L392.60,51.60 L392.60,51.90 L392.50,52.00 L392.50,52.30 L392.40,52.40 L392.40,52.70 L392.30,52.80 L392.30,53.10 L392.20,53.20 L392.20,53.50 L392.00,54.00 L392.00,54.40 L391.90,54.50 L391.90,54.90 L391.70,55.40 L391.70,55.80 L391.60,55.90 L391.50,56.60 L391.40,56.70 L391.00,58.10 L390.00,60.10 L389.80,60.30 L388.80,62.10 L388.40,62.60 L388.00,63.40 L387.60,63.90 L387.50,64.20 L386.60,65.50 L386.20,66.30 L384.80,68.40 L384.80,68.80 L385.00,69.20 L385.60,69.90 L385.70,69.90 L386.20,69.40 L393.30,59.80 L395.10,57.60 L396.60,55.60 L397.00,54.90 L397.30,54.60 L397.60,54.00 L398.30,53.00 L398.30,52.80 L398.40,52.70 L398.40,51.30 L398.50,51.20 L398.60,50.50 L398.70,50.40 L398.70,50.20 L398.90,49.80 L398.90,49.50 L399.10,49.10 L399.10,48.80 L399.20,48.70 L399.30,47.60 L399.40,47.50 L399.40,46.90 L399.50,46.80 L399.50,44.30 L399.40,44.20 L399.40,43.80 L399.10,43.00 L398.90,42.70Z"/>
<path fill="#80ff60" d="M398.20,43.40 L398.00,43.40 L397.90,43.30 L397.40,43.40 L396.60,43.90 L395.80,44.80 L395.20,45.70 L394.90,46.40 L394.70,46.60 L394.70,46.80 L394.00,48.20 L394.00,48.40 L393.30,50.30 L393.20,51.00 L393.00,51.40 L393.00,51.70 L392.90,51.80 L392.90,52.10 L392.70,52.60 L392.70,53.00 L392.50,53.50 L392.40,54.40 L392.30,54.50 L392.30,55.00 L392.20,55.10 L392.20,55.50 L392.10,55.60 L392.00,56.60 L391.90,56.70 L391.80,57.40 L391.60,57.80 L391.60,58.10 L391.40,58.40 L391.20,59.10 L390.30,60.80 L388.10,64.10 L388.00,64.40 L386.80,66.10 L386.70,66.40 L385.30,68.40 L385.10,68.90 L385.40,69.50 L385.70,69.80 L386.00,69.60 L393.40,59.60 L393.80,59.20 L394.40,58.30 L394.80,57.90 L396.30,55.90 L398.00,53.30 L398.00,51.50 L398.10,51.40 L398.20,50.60 L398.40,50.20 L398.40,49.90 L398.50,49.80 L398.70,48.80 L398.80,48.70 L398.90,47.60 L399.00,47.50 L399.00,46.50 L399.10,46.40 L399.10,45.60 L399.00,45.50 L399.00,44.80 L398.90,44.70 L398.90,44.40 L398.70,43.90Z"/>
<path fill="#ffff10" d="M397.90,44.30 L397.20,44.30 L396.80,44.50 L395.90,45.40 L395.30,46.30 L394.50,47.90 L394.50,48.10 L394.30,48.40 L394.30,48.60 L394.10,48.90 L394.10,49.10 L393.70,50.10 L393.70,50.40 L393.50,50.80 L393.50,51.10 L393.40,51.20 L393.40,51.50 L393.30,51.60 L393.30,51.90 L393.20,52.00 L393.20,52.30 L393.00,52.80 L393.00,53.20 L392.90,53.30 L392.90,53.70 L392.80,53.80 L392.80,54.20 L392.70,54.30 L392.70,54.80 L392.60,54.90 L392.60,55.50 L392.50,55.60 L392.50,56.20 L392.40,56.30 L392.30,57.40 L392.20,57.50 L392.20,57.80 L392.10,57.90 L392.10,58.20 L392.00,58.30 L391.90,58.80 L391.10,60.50 L390.40,61.50 L390.30,61.80 L388.50,64.50 L388.20,64.80 L386.40,67.60 L385.50,68.80 L385.40,69.10 L385.80,69.70 L386.80,68.50 L387.00,68.10 L389.70,64.60 L389.90,64.20 L393.20,59.80 L393.60,59.40 L394.50,58.10 L394.90,57.70 L396.10,56.10 L396.30,55.70 L396.60,55.40 L397.40,54.20 L397.70,53.60 L397.60,53.40 L397.60,51.90 L397.70,51.80 L397.70,51.30 L397.80,51.20 L397.90,50.40 L398.30,49.30 L398.30,48.90 L398.40,48.80 L398.40,48.40 L398.50,48.30 L398.50,47.80 L398.60,47.70 L398.60,45.60 L398.50,45.50 L398.50,45.20 L398.30,44.70Z"/>
<path fill="#ff9a00" d="M397.50,45.30 L397.00,45.30 L396.60,45.50 L396.00,46.10 L395.50,46.80 L394.50,48.90 L394.50,49.10 L393.90,50.70 L393.90,51.00 L393.70,51.40 L393.50,52.50 L393.40,52.60 L393.40,53.00 L393.30,53.10 L393.30,53.50 L393.20,53.60 L393.20,54.10 L393.10,54.20 L393.10,54.70 L393.00,54.80 L393.00,55.70 L392.90,55.80 L392.80,57.40 L392.70,57.50 L392.70,58.00 L392.60,58.10 L392.60,58.40 L392.50,58.50 L392.30,59.30 L391.60,60.70 L391.40,60.90 L391.30,61.20 L390.90,61.70 L390.60,62.30 L390.30,62.60 L389.00,64.60 L388.70,64.90 L387.10,67.30 L385.70,69.20 L385.80,69.50 L385.90,69.50 L386.30,69.10 L386.80,68.30 L389.80,64.40 L390.00,64.00 L395.90,56.30 L397.30,54.20 L397.30,53.80 L397.20,53.70 L397.20,52.10 L397.30,52.00 L397.40,50.90 L397.50,50.80 L397.60,50.10 L397.80,49.70 L397.90,48.90 L398.00,48.80 L398.00,48.30 L398.10,48.20 L398.10,46.20 L397.80,45.50Z"/>
<path fill="#ff2200" d="M397.10,46.50 L396.80,46.50 L396.40,46.70 L396.00,47.10 L395.60,47.70 L395.00,48.90 L395.00,49.10 L394.80,49.40 L394.80,49.60 L394.60,49.90 L394.60,50.10 L394.20,51.10 L394.20,51.40 L394.10,51.50 L393.90,52.50 L393.80,52.60 L393.80,53.00 L393.70,53.10 L393.70,53.50 L393.60,53.60 L393.60,54.10 L393.50,54.20 L393.50,54.80 L393.40,54.90 L393.40,56.80 L393.30,56.90 L393.30,57.80 L393.20,57.90 L393.20,58.30 L393.10,58.40 L393.10,58.70 L393.00,58.80 L392.90,59.30 L392.20,60.70 L390.90,62.70 L390.60,63.00 L389.90,64.10 L387.20,67.70 L392.80,60.20 L393.20,59.80 L394.10,58.50 L394.50,58.10 L396.00,56.10 L396.90,54.70 L396.90,54.30 L396.80,54.20 L396.80,52.10 L396.90,52.00 L396.90,51.40 L397.00,51.30 L397.10,50.30 L397.20,50.20 L397.30,49.40 L397.50,48.90 L397.50,47.10 L397.40,47.00 L397.40,46.80Z"/>
</g>
<g transform="translate(347.9,101.8) scale(0.96,1)">
<polyline points="42.80,-76.90 39.90,-76.90 32.00,-52.30 38.50,-31.40" fill="none" stroke="#62c2bb" stroke-width="0.8" vector-effect="non-scaling-stroke"/>
<polyline points="38.50,-31.40 54.50,-49.50 58.50,-56.20 61.00,-60.40 62.70,-62.00 65.20,-61.20 73.90,-68.70" fill="none" stroke="#62c2bb" stroke-width="0.8" vector-effect="non-scaling-stroke"/>
<polyline points="73.90,-68.70 75.20,-77.00" fill="none" stroke="#62c2bb" stroke-width="0.8" vector-effect="non-scaling-stroke"/>
<polyline points="38.50,-31.40 31.60,-29.90 32.10,-22.10 49.30,-23.50 69.40,-29.90 77.40,-47.90 77.70,-59.50 76.90,-67.00 73.90,-68.70" fill="none" stroke="#62c2bb" stroke-width="0.8" vector-effect="non-scaling-stroke"/>
</g>
<text x="349.4" y="45.1" font-size="6.95">Aggr. 90.74%</text>
<text x="431" y="93.8" font-size="6.9" text-anchor="end">Monomers 4.59%</text>
<rect x="433.8" y="20.5" width="95.60" height="91.70" fill="none" stroke="#d8a7a7" stroke-width="0.9"/>
<text x="484" y="14.3" font-size="6.8" text-anchor="middle">FMU200 0.1 iM + H<tspan font-size="4.8" dy="1.6">2</tspan><tspan dy="-1.6">O</tspan><tspan font-size="4.8" dy="1.6">2</tspan><tspan dy="-1.6"> 10iM</tspan></text>
<g fill="none" stroke="#6262c4" stroke-width="0.55"><path d="M439.85,99.95 L440.35,99.45 L440.35,101.55"/><ellipse cx="441.75" cy="100.50" rx="0.72" ry="1.02"/><path d="M443.15,98.10 L443.15,99.30"/><path d="M439.85,90.25 L440.35,89.75 L440.35,91.85"/><ellipse cx="441.75" cy="90.80" rx="0.72" ry="1.02"/><path d="M443.15,88.40 L443.15,89.60"/><path d="M439.85,77.05 L440.35,76.55 L440.35,78.65"/><ellipse cx="441.75" cy="77.60" rx="0.72" ry="1.02"/><path d="M443.15,75.20 L443.15,76.40"/><path d="M439.85,63.85 L440.35,63.35 L440.35,65.45"/><ellipse cx="441.75" cy="64.40" rx="0.72" ry="1.02"/><path d="M443.15,62.00 L443.15,63.20"/><path d="M439.85,50.65 L440.35,50.15 L440.35,52.25"/><ellipse cx="441.75" cy="51.20" rx="0.72" ry="1.02"/><path d="M443.15,48.80 L443.15,50.00"/><path d="M439.85,37.45 L440.35,36.95 L440.35,39.05"/><ellipse cx="441.75" cy="38.00" rx="0.72" ry="1.02"/><path d="M443.15,35.60 L443.15,36.80"/><path d="M439.85,24.25 L440.35,23.75 L440.35,25.85"/><ellipse cx="441.75" cy="24.80" rx="0.72" ry="1.02"/><path d="M443.15,22.40 L443.15,23.60"/><path d="M444.75,107.45 L445.25,106.95 L445.25,109.05"/><ellipse cx="446.65" cy="108.00" rx="0.72" ry="1.02"/><path d="M448.05,105.60 L448.05,106.80"/><path d="M453.01,107.45 L453.51,106.95 L453.51,109.05"/><ellipse cx="454.91" cy="108.00" rx="0.72" ry="1.02"/><path d="M456.31,105.60 L456.31,106.80"/><path d="M464.37,107.45 L464.87,106.95 L464.87,109.05"/><ellipse cx="466.27" cy="108.00" rx="0.72" ry="1.02"/><path d="M467.67,105.60 L467.67,106.80"/><path d="M475.72,107.45 L476.22,106.95 L476.22,109.05"/><ellipse cx="477.62" cy="108.00" rx="0.72" ry="1.02"/><path d="M479.02,105.60 L479.02,106.80"/><path d="M487.07,107.45 L487.57,106.95 L487.57,109.05"/><ellipse cx="488.97" cy="108.00" rx="0.72" ry="1.02"/><path d="M490.37,105.60 L490.37,106.80"/><path d="M498.43,107.45 L498.93,106.95 L498.93,109.05"/><ellipse cx="500.32" cy="108.00" rx="0.72" ry="1.02"/><path d="M501.73,105.60 L501.73,106.80"/><path d="M509.78,107.45 L510.28,106.95 L510.28,109.05"/><ellipse cx="511.68" cy="108.00" rx="0.72" ry="1.02"/><path d="M513.08,105.60 L513.08,106.80"/><path d="M521.13,107.45 L521.63,106.95 L521.63,109.05"/><ellipse cx="523.03" cy="108.00" rx="0.72" ry="1.02"/><path d="M524.43,105.60 L524.43,106.80"/></g>
<path d="M446.20,23.50 L446.20,102.00 L524.00,102.00" fill="none" stroke="#2a3774" stroke-width="1.2"/>
<g filter="url(#soft)">
<path fill="#0c0cd0" d="M497.70,38.20 L497.10,38.10 L497.00,38.20 L496.30,38.30 L495.40,38.90 L494.60,39.70 L493.10,41.90 L492.10,43.90 L492.10,44.10 L491.60,45.10 L491.50,45.60 L491.30,45.90 L491.30,46.10 L490.80,47.40 L490.80,47.70 L490.60,48.10 L490.60,48.40 L490.50,48.50 L490.50,48.80 L490.40,48.90 L490.40,49.20 L490.20,49.70 L490.20,50.10 L490.00,50.60 L490.00,51.00 L489.90,51.10 L489.80,51.70 L489.60,52.10 L489.60,52.40 L489.50,52.50 L489.30,53.30 L489.10,53.60 L489.00,54.10 L488.80,54.40 L488.80,54.60 L486.30,59.50 L486.10,59.70 L485.60,60.80 L485.40,61.00 L484.90,62.10 L484.70,62.30 L484.20,63.40 L484.00,63.60 L483.40,64.90 L483.20,65.10 L482.70,66.20 L482.50,66.40 L482.00,67.50 L481.80,67.70 L481.80,68.50 L482.00,68.80 L483.50,70.20 L483.90,70.00 L484.40,69.40 L485.30,68.10 L485.70,67.70 L487.80,64.80 L488.20,64.40 L490.60,61.20 L491.20,60.70 L491.70,60.90 L492.70,60.70 L493.60,60.10 L494.80,58.80 L495.90,57.10 L497.20,54.40 L497.20,54.20 L497.40,53.90 L497.50,53.40 L497.70,53.10 L497.70,52.90 L498.20,51.60 L498.20,51.30 L498.40,50.90 L498.40,50.60 L498.50,50.50 L498.50,50.20 L498.60,50.10 L498.60,49.80 L498.70,49.70 L498.70,49.40 L498.80,49.30 L498.80,49.00 L499.00,48.70 L499.00,48.50 L499.70,47.90 L501.00,47.80 L501.10,47.70 L501.40,47.70 L501.50,47.60 L502.00,47.50 L502.90,47.00 L503.40,46.50 L503.40,46.00 L503.10,45.80 L502.00,45.80 L501.90,45.90 L501.60,45.90 L501.50,46.00 L501.00,46.10 L499.90,46.60 L499.70,46.60 L499.40,46.30 L499.50,42.60 L499.40,42.50 L499.40,41.50 L499.30,41.40 L499.30,40.90 L499.20,40.80 L499.00,39.80 L498.60,39.00Z"/>
<path fill="#0090ff" d="M497.10,40.70 L496.90,40.70 L496.80,40.60 L496.30,40.60 L495.60,40.90 L495.20,41.20 L494.20,42.30 L493.60,43.20 L492.80,44.70 L492.80,44.90 L492.20,46.10 L492.20,46.30 L491.50,48.20 L491.50,48.50 L491.10,49.60 L491.10,49.90 L490.80,50.70 L490.60,51.80 L490.40,52.20 L490.30,52.90 L490.10,53.30 L490.00,54.00 L489.90,54.10 L489.30,56.10 L488.90,56.80 L488.90,57.00 L488.60,57.60 L488.40,57.80 L487.30,59.90 L486.80,60.60 L486.60,61.10 L486.40,61.30 L485.60,62.80 L485.40,63.00 L484.60,64.50 L484.40,64.70 L483.60,66.20 L483.40,66.40 L483.30,66.70 L483.10,66.90 L483.00,67.20 L482.40,68.10 L482.50,68.80 L483.60,70.00 L484.20,69.50 L489.50,62.40 L489.90,62.00 L490.50,61.10 L492.20,59.10 L492.20,59.00 L492.90,58.30 L493.40,58.10 L493.80,57.80 L494.80,56.70 L495.40,55.80 L495.60,55.30 L495.80,55.10 L496.20,54.30 L496.20,54.10 L497.50,51.70 L497.50,50.70 L497.60,50.60 L497.60,50.10 L497.70,50.00 L497.70,49.70 L497.80,49.60 L497.80,49.30 L498.00,48.80 L498.00,48.40 L498.10,48.30 L498.10,47.90 L498.20,47.80 L498.20,47.20 L498.30,47.10 L498.30,45.90 L498.40,45.80 L498.40,43.80 L498.30,43.70 L498.20,42.50 L498.10,42.40 L497.90,41.60 L497.60,41.10Z"/>
<path fill="#20e0f0" d="M496.70,41.70 L495.90,41.70 L495.10,42.20 L494.20,43.20 L493.70,44.10 L493.50,44.30 L492.90,45.50 L492.90,45.70 L492.40,46.70 L492.40,46.90 L491.80,48.50 L491.80,48.80 L491.50,49.50 L491.50,49.80 L491.40,49.90 L491.30,50.60 L491.10,51.00 L491.10,51.30 L491.00,51.40 L491.00,51.70 L490.90,51.80 L490.90,52.10 L490.80,52.20 L490.80,52.50 L490.70,52.60 L490.70,52.90 L490.60,53.00 L490.60,53.30 L490.50,53.40 L490.50,53.70 L490.40,53.80 L490.10,55.30 L490.00,55.40 L489.90,56.00 L489.80,56.10 L489.70,56.60 L489.50,56.90 L489.50,57.10 L488.50,59.10 L488.30,59.30 L487.60,60.60 L487.20,61.10 L486.80,61.90 L486.40,62.40 L485.50,64.00 L485.10,64.50 L485.00,64.80 L484.60,65.30 L484.20,66.10 L483.80,66.60 L483.70,66.90 L482.70,68.40 L482.80,68.90 L483.60,69.90 L483.70,69.90 L484.30,69.30 L484.90,68.40 L485.30,68.00 L491.30,60.00 L494.60,56.10 L496.30,53.60 L497.20,52.00 L497.20,51.70 L497.10,51.60 L497.10,50.90 L497.20,50.80 L497.30,49.70 L497.40,49.60 L497.40,49.30 L497.60,48.80 L497.60,48.30 L497.70,48.20 L497.70,47.70 L497.80,47.60 L497.80,46.80 L497.90,46.70 L497.90,44.10 L497.80,44.00 L497.80,43.50 L497.70,43.40 L497.60,42.80 L497.30,42.20Z"/>
<path fill="#80ff60" d="M496.30,42.70 L495.80,42.70 L495.40,42.90 L494.50,43.70 L493.80,44.70 L492.90,46.50 L492.90,46.70 L492.70,47.00 L492.70,47.20 L492.00,49.10 L491.80,50.10 L491.60,50.50 L491.60,50.80 L491.50,50.90 L491.50,51.20 L491.40,51.30 L491.40,51.60 L491.30,51.70 L491.30,52.00 L491.20,52.10 L491.20,52.40 L491.00,52.90 L491.00,53.30 L490.80,53.80 L490.80,54.20 L490.70,54.30 L490.60,55.20 L490.40,55.70 L490.40,56.10 L490.20,56.50 L490.20,56.80 L490.10,56.90 L490.00,57.40 L489.50,58.40 L489.50,58.60 L489.20,59.00 L488.60,60.20 L485.60,64.70 L485.50,65.00 L484.10,67.00 L484.00,67.30 L483.20,68.40 L483.10,68.90 L483.70,69.80 L484.10,69.50 L490.40,61.10 L490.80,60.70 L491.40,59.80 L494.10,56.50 L495.30,54.90 L495.70,54.20 L496.00,53.90 L496.60,52.80 L496.80,52.60 L496.80,50.40 L496.90,50.30 L496.90,49.80 L497.10,49.30 L497.10,48.90 L497.20,48.80 L497.20,48.40 L497.30,48.30 L497.30,47.70 L497.40,47.60 L497.50,45.40 L497.40,45.30 L497.40,44.50 L497.30,44.40 L497.20,43.70 L496.80,43.00Z"/>
<path fill="#ffff10" d="M496.20,43.70 L495.50,43.70 L495.00,44.00 L494.20,44.90 L493.40,46.30 L493.40,46.50 L493.10,47.00 L492.80,48.00 L492.60,48.30 L492.50,48.90 L492.10,49.90 L492.00,50.60 L491.80,51.00 L491.80,51.30 L491.60,51.80 L491.60,52.20 L491.50,52.30 L491.50,52.60 L491.30,53.10 L491.20,54.00 L491.10,54.10 L491.10,54.60 L491.00,54.70 L491.00,55.20 L490.90,55.30 L490.80,56.30 L490.70,56.40 L490.50,57.50 L490.40,57.60 L490.30,58.10 L490.10,58.40 L490.10,58.60 L489.10,60.50 L487.10,63.50 L486.80,63.80 L485.80,65.40 L485.50,65.70 L484.30,67.60 L483.40,68.80 L483.40,69.10 L483.80,69.70 L484.30,69.20 L491.20,60.00 L491.60,59.60 L492.30,58.60 L493.80,56.80 L494.10,56.30 L494.50,55.90 L496.50,52.90 L496.50,52.60 L496.40,52.50 L496.40,50.90 L496.50,50.80 L496.50,50.10 L496.60,50.00 L496.60,49.60 L496.70,49.50 L496.70,49.10 L496.80,49.00 L496.80,48.60 L496.90,48.50 L496.90,47.90 L497.00,47.80 L497.00,45.20 L496.60,44.10Z"/>
<path fill="#ff9a00" d="M495.70,44.70 L495.50,44.70 L494.80,45.10 L494.30,45.70 L493.50,47.10 L493.50,47.30 L493.20,47.80 L493.10,48.30 L492.90,48.60 L492.90,48.80 L492.60,49.50 L492.60,49.80 L492.30,50.50 L492.30,50.80 L492.20,50.90 L492.20,51.20 L492.10,51.30 L491.80,52.80 L491.70,52.90 L491.70,53.30 L491.60,53.40 L491.60,53.80 L491.50,53.90 L491.50,54.50 L491.40,54.60 L491.40,55.20 L491.30,55.30 L491.20,56.60 L491.10,56.70 L491.00,57.60 L490.90,57.70 L490.80,58.30 L490.50,58.90 L490.50,59.10 L490.00,60.10 L489.80,60.30 L489.70,60.60 L489.50,60.80 L489.00,61.70 L488.70,62.00 L488.30,62.70 L488.00,63.00 L487.80,63.40 L487.50,63.70 L487.30,64.10 L487.00,64.40 L486.80,64.80 L486.50,65.10 L486.30,65.50 L486.00,65.80 L485.80,66.20 L485.50,66.50 L485.30,66.90 L483.70,69.10 L483.80,69.50 L484.00,69.50 L490.00,61.50 L490.40,61.10 L491.70,59.30 L493.60,57.00 L495.10,55.00 L496.20,53.30 L496.10,53.10 L496.10,52.50 L496.00,52.40 L496.00,51.40 L496.10,51.30 L496.20,49.60 L496.30,49.50 L496.40,48.50 L496.50,48.40 L496.60,46.50 L496.50,46.40 L496.50,45.80 L496.40,45.70 L496.30,45.20 L496.10,44.90Z"/>
<path fill="#ff2200" d="M495.40,46.00 L495.00,46.10 L494.10,47.10 L493.30,48.80 L493.20,49.30 L493.00,49.60 L493.00,49.80 L492.70,50.50 L492.70,50.80 L492.50,51.20 L492.50,51.50 L492.40,51.60 L492.40,51.90 L492.30,52.00 L492.30,52.30 L492.10,52.80 L492.00,53.70 L491.90,53.80 L491.50,57.70 L491.40,57.80 L491.30,58.50 L491.00,59.10 L491.00,59.30 L490.40,60.50 L490.20,60.70 L490.10,61.00 L489.50,61.90 L485.20,67.60 L485.00,68.00 L484.10,69.10 L484.00,69.40 L489.40,62.20 L489.80,61.80 L490.40,60.90 L490.80,60.50 L491.10,60.00 L491.50,59.60 L492.20,58.60 L493.40,57.20 L494.00,56.30 L494.40,55.90 L495.80,53.80 L495.80,53.40 L495.70,53.30 L495.70,52.20 L495.60,52.10 L495.60,51.90 L495.70,51.80 L495.70,50.10 L495.80,50.00 L495.80,49.20 L495.90,49.10 L495.90,48.50 L496.00,48.40 L496.00,47.00 L495.70,46.20Z"/>
</g>
<g transform="translate(446.2,102) scale(0.95,1)">
<polyline points="42.80,-76.90 39.90,-76.90 32.00,-52.30 38.50,-31.40" fill="none" stroke="#62c2bb" stroke-width="0.8" vector-effect="non-scaling-stroke"/>
<polyline points="38.50,-31.40 54.50,-49.50 58.50,-56.20 61.00,-60.40 62.70,-62.00 65.20,-61.20 73.90,-68.70" fill="none" stroke="#62c2bb" stroke-width="0.8" vector-effect="non-scaling-stroke"/>
<polyline points="73.90,-68.70 75.20,-77.00" fill="none" stroke="#62c2bb" stroke-width="0.8" vector-effect="non-scaling-stroke"/>
<polyline points="38.50,-31.40 31.60,-29.90 32.10,-22.10 49.30,-23.50 69.40,-29.90 77.40,-47.90 77.70,-59.50 76.90,-67.00 73.90,-68.70" fill="none" stroke="#62c2bb" stroke-width="0.8" vector-effect="non-scaling-stroke"/>
</g>
<text x="448.3" y="45.1" font-size="6.95">Aggr. 92.32%</text>
<text x="527.4" y="93.8" font-size="6.9" text-anchor="end">Monomers 4.88%</text>
<text x="8.8" y="162.4" font-size="8.2">B</text>
<line x1="70.3" y1="171.90" x2="70.3" y2="299.9" stroke="#333" stroke-width="0.8"/>
<line x1="66.8" y1="299.50" x2="70.3" y2="299.50" stroke="#333" stroke-width="0.8"/>
<text x="65.5" y="302.00" font-size="7" text-anchor="end">0</text>
<line x1="66.8" y1="257.10" x2="70.3" y2="257.10" stroke="#333" stroke-width="0.8"/>
<text x="65.5" y="259.60" font-size="7" text-anchor="end">50</text>
<line x1="66.8" y1="214.70" x2="70.3" y2="214.70" stroke="#333" stroke-width="0.8"/>
<text x="65.5" y="217.20" font-size="7" text-anchor="end">100</text>
<line x1="66.8" y1="172.30" x2="70.3" y2="172.30" stroke="#333" stroke-width="0.8"/>
<text x="65.5" y="174.80" font-size="7" text-anchor="end">150</text>
<text transform="translate(29.4,236.2) rotate(-90)" font-size="8.6" text-anchor="middle">MMP (&#916;&#968;m)</text>
<text transform="translate(39.8,235.8) rotate(-90)" font-size="8.7" text-anchor="middle">Ratio (aggregates/monomers JC-1)</text>
<text transform="translate(49.4,236.3) rotate(-90)" font-size="8.6" text-anchor="middle">(% of control)</text>
<line x1="81.10" y1="214.70" x2="81.10" y2="214.02" stroke="#111" stroke-width="0.9"/>
<line x1="77.90" y1="214.02" x2="84.30" y2="214.02" stroke="#111" stroke-width="0.9"/>
<rect x="74.50" y="215.20" width="13" height="84.30" fill="#000000" stroke="#333" stroke-width="1"/>
<line x1="102.24" y1="237.77" x2="102.24" y2="236.49" stroke="#111" stroke-width="0.9"/>
<line x1="99.04" y1="236.49" x2="105.44" y2="236.49" stroke="#111" stroke-width="0.9"/>
<rect x="95.50" y="238.27" width="13" height="61.23" fill="#76767d" stroke="#333" stroke-width="1"/>
<line x1="123.38" y1="249.21" x2="123.38" y2="247.86" stroke="#111" stroke-width="0.9"/>
<line x1="120.18" y1="247.86" x2="126.58" y2="247.86" stroke="#111" stroke-width="0.9"/>
<rect x="116.50" y="249.71" width="13" height="49.79" fill="#0c3534" stroke="#333" stroke-width="1"/>
<line x1="144.52" y1="204.52" x2="144.52" y2="203.68" stroke="#111" stroke-width="0.9"/>
<line x1="141.32" y1="203.68" x2="147.72" y2="203.68" stroke="#111" stroke-width="0.9"/>
<rect x="138.50" y="205.02" width="13" height="94.48" fill="#ffffff" stroke="#333" stroke-width="1"/>
<line x1="165.66" y1="230.81" x2="165.66" y2="228.27" stroke="#111" stroke-width="0.9"/>
<line x1="162.46" y1="228.27" x2="168.86" y2="228.27" stroke="#111" stroke-width="0.9"/>
<rect x="159.50" y="231.31" width="13" height="68.19" fill="#ffffff" stroke="#333" stroke-width="1"/>
<line x1="186.80" y1="238.19" x2="186.80" y2="235.14" stroke="#111" stroke-width="0.9"/>
<line x1="183.60" y1="235.14" x2="190.00" y2="235.14" stroke="#111" stroke-width="0.9"/>
<rect x="180.50" y="238.69" width="13" height="60.81" fill="#8e8e8e" stroke="#333" stroke-width="1"/>
<line x1="207.94" y1="245.65" x2="207.94" y2="244.38" stroke="#111" stroke-width="0.9"/>
<line x1="204.74" y1="244.38" x2="211.14" y2="244.38" stroke="#111" stroke-width="0.9"/>
<rect x="201.50" y="246.15" width="13" height="53.35" fill="#8e8e8e" stroke="#333" stroke-width="1"/>
<line x1="229.08" y1="223.18" x2="229.08" y2="221.65" stroke="#111" stroke-width="0.9"/>
<line x1="225.88" y1="221.65" x2="232.28" y2="221.65" stroke="#111" stroke-width="0.9"/>
<rect x="222.50" y="223.68" width="13" height="75.82" fill="#4d6c60" stroke="#333" stroke-width="1"/>
<line x1="250.22" y1="238.10" x2="250.22" y2="236.58" stroke="#111" stroke-width="0.9"/>
<line x1="247.02" y1="236.58" x2="253.42" y2="236.58" stroke="#111" stroke-width="0.9"/>
<rect x="243.50" y="238.60" width="13" height="60.90" fill="#4d6c60" stroke="#333" stroke-width="1"/>
<line x1="70.3" y1="299.5" x2="261" y2="299.5" stroke="#333" stroke-width="0.8"/>
<line x1="81.10" y1="299.5" x2="81.10" y2="302.5" stroke="#333" stroke-width="0.7"/>
<line x1="102.24" y1="299.5" x2="102.24" y2="302.5" stroke="#333" stroke-width="0.7"/>
<line x1="123.38" y1="299.5" x2="123.38" y2="302.5" stroke="#333" stroke-width="0.7"/>
<line x1="144.52" y1="299.5" x2="144.52" y2="302.5" stroke="#333" stroke-width="0.7"/>
<line x1="165.66" y1="299.5" x2="165.66" y2="302.5" stroke="#333" stroke-width="0.7"/>
<line x1="186.80" y1="299.5" x2="186.80" y2="302.5" stroke="#333" stroke-width="0.7"/>
<line x1="207.94" y1="299.5" x2="207.94" y2="302.5" stroke="#333" stroke-width="0.7"/>
<line x1="229.08" y1="299.5" x2="229.08" y2="302.5" stroke="#333" stroke-width="0.7"/>
<line x1="250.22" y1="299.5" x2="250.22" y2="302.5" stroke="#333" stroke-width="0.7"/>
<line x1="70.8" y1="215.1" x2="261" y2="215.1" stroke="#ec2a2e" stroke-width="1.1" stroke-dasharray="1.1,1.2"/>
<text x="102.24" y="234.00" font-size="5.6" text-anchor="middle">***</text>
<text x="123.38" y="244.10" font-size="5.6" text-anchor="middle">***</text>
<text x="187.10" y="229.90" font-size="5.4" text-anchor="middle" font-style="italic" letter-spacing="0.3" fill="#222" style="stroke-width:0.06px">##</text>
<text x="229.38" y="219.10" font-size="5.4" text-anchor="middle" font-style="italic" letter-spacing="0.3" fill="#222" style="stroke-width:0.06px">###</text>
<text x="250.52" y="231.60" font-size="5.4" text-anchor="middle" font-style="italic" letter-spacing="0.3" fill="#222" style="stroke-width:0.06px">##</text>
<text x="139.30" y="173.50" font-size="5.4" text-anchor="middle" font-style="italic" letter-spacing="0.3" fill="#222" style="stroke-width:0.06px">###</text>
<polyline points="122.8,237.5 122.8,177.2 153.3,177.2 153.3,193.6" fill="none" stroke="#a8a8a8" stroke-width="0.8"/>
<polyline points="137.3,197.6 137.3,193.6 170.5,193.6 170.5,197.6" fill="none" stroke="#a8a8a8" stroke-width="0.8"/>
<text x="101.9" y="307.0" font-size="4.2" text-anchor="middle" fill="#333" style="stroke:none">(CCCP)</text>
<text x="295.6" y="161.7" font-size="8.2">C</text>
<line x1="352.8" y1="171.00" x2="352.8" y2="298.9" stroke="#333" stroke-width="0.8"/>
<line x1="349.3" y1="298.50" x2="352.8" y2="298.50" stroke="#333" stroke-width="0.8"/>
<text x="348.0" y="301.00" font-size="7" text-anchor="end">0</text>
<line x1="349.3" y1="273.08" x2="352.8" y2="273.08" stroke="#333" stroke-width="0.8"/>
<text y="275.58" font-size="6.7"><tspan x="323.50">1.0</tspan><tspan x="333.30" font-size="5.6">&#215;</tspan><tspan x="338.60">10</tspan><tspan x="346.10" dy="-2.6" font-size="3.8">5</tspan></text>
<line x1="349.3" y1="247.66" x2="352.8" y2="247.66" stroke="#333" stroke-width="0.8"/>
<text y="250.16" font-size="6.7"><tspan x="323.50">2.0</tspan><tspan x="333.30" font-size="5.6">&#215;</tspan><tspan x="338.60">10</tspan><tspan x="346.10" dy="-2.6" font-size="3.8">5</tspan></text>
<line x1="349.3" y1="222.24" x2="352.8" y2="222.24" stroke="#333" stroke-width="0.8"/>
<text y="224.74" font-size="6.7"><tspan x="323.50">3.0</tspan><tspan x="333.30" font-size="5.6">&#215;</tspan><tspan x="338.60">10</tspan><tspan x="346.10" dy="-2.6" font-size="3.8">5</tspan></text>
<line x1="349.3" y1="196.82" x2="352.8" y2="196.82" stroke="#333" stroke-width="0.8"/>
<text y="199.32" font-size="6.7"><tspan x="323.50">4.0</tspan><tspan x="333.30" font-size="5.6">&#215;</tspan><tspan x="338.60">10</tspan><tspan x="346.10" dy="-2.6" font-size="3.8">5</tspan></text>
<line x1="349.3" y1="171.40" x2="352.8" y2="171.40" stroke="#333" stroke-width="0.8"/>
<text y="173.90" font-size="6.7"><tspan x="323.50">5.0</tspan><tspan x="333.30" font-size="5.6">&#215;</tspan><tspan x="338.60">10</tspan><tspan x="346.10" dy="-2.6" font-size="3.8">5</tspan></text>
<text transform="translate(323,235) rotate(-90)" font-size="8.8" text-anchor="middle">ROS production (RFU)</text>
<line x1="363.00" y1="278.40" x2="363.00" y2="277.00" stroke="#111" stroke-width="0.9"/>
<line x1="359.80" y1="277.00" x2="366.20" y2="277.00" stroke="#111" stroke-width="0.9"/>
<rect x="356.50" y="278.90" width="13" height="19.60" fill="#000000" stroke="#333" stroke-width="1"/>
<line x1="384.14" y1="274.40" x2="384.14" y2="272.00" stroke="#111" stroke-width="0.9"/>
<line x1="380.94" y1="272.00" x2="387.34" y2="272.00" stroke="#111" stroke-width="0.9"/>
<rect x="377.50" y="274.90" width="13" height="23.60" fill="#76767d" stroke="#333" stroke-width="1"/>
<line x1="405.28" y1="211.20" x2="405.28" y2="190.40" stroke="#111" stroke-width="0.9"/>
<line x1="402.08" y1="190.40" x2="408.48" y2="190.40" stroke="#111" stroke-width="0.9"/>
<rect x="398.50" y="211.70" width="13" height="86.80" fill="#0c3534" stroke="#333" stroke-width="1"/>
<line x1="426.42" y1="281.10" x2="426.42" y2="280.00" stroke="#111" stroke-width="0.9"/>
<line x1="423.22" y1="280.00" x2="429.62" y2="280.00" stroke="#111" stroke-width="0.9"/>
<rect x="419.50" y="281.60" width="13" height="16.90" fill="#ffffff" stroke="#333" stroke-width="1"/>
<line x1="447.56" y1="274.60" x2="447.56" y2="270.80" stroke="#111" stroke-width="0.9"/>
<line x1="444.36" y1="270.80" x2="450.76" y2="270.80" stroke="#111" stroke-width="0.9"/>
<rect x="441.50" y="275.10" width="13" height="23.40" fill="#ffffff" stroke="#333" stroke-width="1"/>
<line x1="468.70" y1="272.90" x2="468.70" y2="266.70" stroke="#111" stroke-width="0.9"/>
<line x1="465.50" y1="266.70" x2="471.90" y2="266.70" stroke="#111" stroke-width="0.9"/>
<rect x="462.50" y="273.40" width="13" height="25.10" fill="#8e8e8e" stroke="#333" stroke-width="1"/>
<line x1="489.84" y1="271.30" x2="489.84" y2="264.20" stroke="#111" stroke-width="0.9"/>
<line x1="486.64" y1="264.20" x2="493.04" y2="264.20" stroke="#111" stroke-width="0.9"/>
<rect x="483.50" y="271.80" width="13" height="26.70" fill="#8e8e8e" stroke="#333" stroke-width="1"/>
<line x1="510.98" y1="271.30" x2="510.98" y2="263.30" stroke="#111" stroke-width="0.9"/>
<line x1="507.78" y1="263.30" x2="514.18" y2="263.30" stroke="#111" stroke-width="0.9"/>
<rect x="504.50" y="271.80" width="13" height="26.70" fill="#4d6c60" stroke="#333" stroke-width="1"/>
<line x1="532.12" y1="255.00" x2="532.12" y2="253.80" stroke="#111" stroke-width="0.9"/>
<line x1="528.92" y1="253.80" x2="535.32" y2="253.80" stroke="#111" stroke-width="0.9"/>
<rect x="525.50" y="255.50" width="13" height="43.00" fill="#4d6c60" stroke="#333" stroke-width="1"/>
<line x1="352.8" y1="298.5" x2="542" y2="298.5" stroke="#333" stroke-width="0.8"/>
<line x1="363.00" y1="298.5" x2="363.00" y2="301.5" stroke="#333" stroke-width="0.7"/>
<line x1="384.14" y1="298.5" x2="384.14" y2="301.5" stroke="#333" stroke-width="0.7"/>
<line x1="405.28" y1="298.5" x2="405.28" y2="301.5" stroke="#333" stroke-width="0.7"/>
<line x1="426.42" y1="298.5" x2="426.42" y2="301.5" stroke="#333" stroke-width="0.7"/>
<line x1="447.56" y1="298.5" x2="447.56" y2="301.5" stroke="#333" stroke-width="0.7"/>
<line x1="468.70" y1="298.5" x2="468.70" y2="301.5" stroke="#333" stroke-width="0.7"/>
<line x1="489.84" y1="298.5" x2="489.84" y2="301.5" stroke="#333" stroke-width="0.7"/>
<line x1="510.98" y1="298.5" x2="510.98" y2="301.5" stroke="#333" stroke-width="0.7"/>
<line x1="532.12" y1="298.5" x2="532.12" y2="301.5" stroke="#333" stroke-width="0.7"/>
<line x1="353.3" y1="278.9" x2="542" y2="278.9" stroke="#ec2a2e" stroke-width="1.1" stroke-dasharray="1.1,1.2"/>
<text x="384.44" y="268.50" font-size="5.4" text-anchor="middle" font-style="italic" letter-spacing="0.3" fill="#222" style="stroke-width:0.06px">###</text>
<text x="405.28" y="187.60" font-size="5.6" text-anchor="middle">***</text>
<text x="511.28" y="259.20" font-size="5.4" text-anchor="middle" font-style="italic" letter-spacing="0.3" fill="#222" style="stroke-width:0.06px">###</text>
<text x="532.42" y="248.60" font-size="5.4" text-anchor="middle" font-style="italic" letter-spacing="0.3" fill="#222" style="stroke-width:0.06px">#</text>
<text x="433.00" y="161.90" font-size="5.4" text-anchor="middle" font-style="italic" letter-spacing="0.3" fill="#222" style="stroke-width:0.06px">###</text>
<polyline points="405.6,178.5 405.6,165.3 457.3,165.3 457.3,257.2" fill="none" stroke="#a8a8a8" stroke-width="0.8"/>
<polyline points="421.2,260.5 421.2,257.2 494.3,257.2 494.3,260.5" fill="none" stroke="#a8a8a8" stroke-width="0.8"/>
<text x="384.0" y="306.9" font-size="4.2" text-anchor="middle" fill="#333" style="stroke:none">(NAC)</text>
<text x="69.8" y="311.6" font-size="6.6" text-anchor="end">H<tspan font-size="4.6" dy="1.5">2</tspan><tspan dy="-1.5">O</tspan><tspan font-size="4.6" dy="1.5">2</tspan><tspan dy="-1.5"> (10 &#956;M)</tspan></text>
<text x="69.8" y="325.4" font-size="6.6" text-anchor="end">FMU200 (&#956;M)</text>
<text x="69.8" y="338.5" font-size="6.6" text-anchor="end">SB203580 (&#956;M)</text>
<text x="69.8" y="351.6" font-size="6.6" text-anchor="end">SP600125 (&#956;M)</text>
<text x="351.5" y="311.6" font-size="6.6" text-anchor="end">H<tspan font-size="4.6" dy="1.5">2</tspan><tspan dy="-1.5">O</tspan><tspan font-size="4.6" dy="1.5">2</tspan><tspan dy="-1.5"> (10 &#956;M)</tspan></text>
<text x="351.5" y="325.4" font-size="6.6" text-anchor="end">FMU200 (&#956;M)</text>
<text x="351.5" y="338.5" font-size="6.6" text-anchor="end">SB203580 (&#956;M)</text>
<text x="351.5" y="351.6" font-size="6.6" text-anchor="end">SP600125 (&#956;M)</text>
<line x1="79.20" y1="309.70" x2="83.00" y2="309.70" stroke="#a4a4a4" stroke-width="0.6"/>
<line x1="100.34" y1="309.70" x2="104.14" y2="309.70" stroke="#a4a4a4" stroke-width="0.6"/>
<text x="123.38" y="312.70" font-size="7" text-anchor="middle">+</text>
<text x="144.52" y="312.70" font-size="7" text-anchor="middle">+</text>
<text x="165.66" y="312.70" font-size="7" text-anchor="middle">+</text>
<text x="186.80" y="312.70" font-size="7" text-anchor="middle">+</text>
<text x="207.94" y="312.70" font-size="7" text-anchor="middle">+</text>
<text x="229.08" y="312.70" font-size="7" text-anchor="middle">+</text>
<text x="250.22" y="312.70" font-size="7" text-anchor="middle">+</text>
<line x1="79.20" y1="323.50" x2="83.00" y2="323.50" stroke="#a4a4a4" stroke-width="0.6"/>
<line x1="100.34" y1="323.50" x2="104.14" y2="323.50" stroke="#a4a4a4" stroke-width="0.6"/>
<line x1="121.48" y1="323.50" x2="125.28" y2="323.50" stroke="#a4a4a4" stroke-width="0.6"/>
<text x="144.52" y="325.60" font-size="7.1" text-anchor="middle">1</text>
<text x="165.66" y="325.60" font-size="7.1" text-anchor="middle">0.1</text>
<line x1="184.90" y1="323.50" x2="188.70" y2="323.50" stroke="#a4a4a4" stroke-width="0.6"/>
<line x1="206.04" y1="323.50" x2="209.84" y2="323.50" stroke="#a4a4a4" stroke-width="0.6"/>
<line x1="227.18" y1="323.50" x2="230.98" y2="323.50" stroke="#a4a4a4" stroke-width="0.6"/>
<line x1="248.32" y1="323.50" x2="252.12" y2="323.50" stroke="#a4a4a4" stroke-width="0.6"/>
<line x1="79.20" y1="336.60" x2="83.00" y2="336.60" stroke="#a4a4a4" stroke-width="0.6"/>
<line x1="100.34" y1="336.60" x2="104.14" y2="336.60" stroke="#a4a4a4" stroke-width="0.6"/>
<line x1="121.48" y1="336.60" x2="125.28" y2="336.60" stroke="#a4a4a4" stroke-width="0.6"/>
<line x1="142.62" y1="336.60" x2="146.42" y2="336.60" stroke="#a4a4a4" stroke-width="0.6"/>
<line x1="163.76" y1="336.60" x2="167.56" y2="336.60" stroke="#a4a4a4" stroke-width="0.6"/>
<text x="186.80" y="338.70" font-size="7.1" text-anchor="middle">1</text>
<text x="207.94" y="338.70" font-size="7.1" text-anchor="middle">0.1</text>
<line x1="227.18" y1="336.60" x2="230.98" y2="336.60" stroke="#a4a4a4" stroke-width="0.6"/>
<line x1="248.32" y1="336.60" x2="252.12" y2="336.60" stroke="#a4a4a4" stroke-width="0.6"/>
<line x1="79.20" y1="349.70" x2="83.00" y2="349.70" stroke="#a4a4a4" stroke-width="0.6"/>
<line x1="100.34" y1="349.70" x2="104.14" y2="349.70" stroke="#a4a4a4" stroke-width="0.6"/>
<line x1="121.48" y1="349.70" x2="125.28" y2="349.70" stroke="#a4a4a4" stroke-width="0.6"/>
<line x1="142.62" y1="349.70" x2="146.42" y2="349.70" stroke="#a4a4a4" stroke-width="0.6"/>
<line x1="163.76" y1="349.70" x2="167.56" y2="349.70" stroke="#a4a4a4" stroke-width="0.6"/>
<line x1="184.90" y1="349.70" x2="188.70" y2="349.70" stroke="#a4a4a4" stroke-width="0.6"/>
<line x1="206.04" y1="349.70" x2="209.84" y2="349.70" stroke="#a4a4a4" stroke-width="0.6"/>
<text x="229.08" y="351.80" font-size="7.1" text-anchor="middle">1</text>
<text x="250.22" y="351.80" font-size="7.1" text-anchor="middle">0.1</text>
<line x1="361.10" y1="309.70" x2="364.90" y2="309.70" stroke="#a4a4a4" stroke-width="0.6"/>
<line x1="382.24" y1="309.70" x2="386.04" y2="309.70" stroke="#a4a4a4" stroke-width="0.6"/>
<text x="405.28" y="312.70" font-size="7" text-anchor="middle">+</text>
<text x="426.42" y="312.70" font-size="7" text-anchor="middle">+</text>
<text x="447.56" y="312.70" font-size="7" text-anchor="middle">+</text>
<text x="468.70" y="312.70" font-size="7" text-anchor="middle">+</text>
<text x="489.84" y="312.70" font-size="7" text-anchor="middle">+</text>
<text x="510.98" y="312.70" font-size="7" text-anchor="middle">+</text>
<text x="532.12" y="312.70" font-size="7" text-anchor="middle">+</text>
<line x1="361.10" y1="323.50" x2="364.90" y2="323.50" stroke="#a4a4a4" stroke-width="0.6"/>
<line x1="382.24" y1="323.50" x2="386.04" y2="323.50" stroke="#a4a4a4" stroke-width="0.6"/>
<line x1="403.38" y1="323.50" x2="407.18" y2="323.50" stroke="#a4a4a4" stroke-width="0.6"/>
<text x="426.42" y="325.60" font-size="7.1" text-anchor="middle">1</text>
<text x="447.56" y="325.60" font-size="7.1" text-anchor="middle">0.1</text>
<line x1="466.80" y1="323.50" x2="470.60" y2="323.50" stroke="#a4a4a4" stroke-width="0.6"/>
<line x1="487.94" y1="323.50" x2="491.74" y2="323.50" stroke="#a4a4a4" stroke-width="0.6"/>
<line x1="509.08" y1="323.50" x2="512.88" y2="323.50" stroke="#a4a4a4" stroke-width="0.6"/>
<line x1="530.22" y1="323.50" x2="534.02" y2="323.50" stroke="#a4a4a4" stroke-width="0.6"/>
<line x1="361.10" y1="336.60" x2="364.90" y2="336.60" stroke="#a4a4a4" stroke-width="0.6"/>
<line x1="382.24" y1="336.60" x2="386.04" y2="336.60" stroke="#a4a4a4" stroke-width="0.6"/>
<line x1="403.38" y1="336.60" x2="407.18" y2="336.60" stroke="#a4a4a4" stroke-width="0.6"/>
<line x1="424.52" y1="336.60" x2="428.32" y2="336.60" stroke="#a4a4a4" stroke-width="0.6"/>
<line x1="445.66" y1="336.60" x2="449.46" y2="336.60" stroke="#a4a4a4" stroke-width="0.6"/>
<text x="468.70" y="338.70" font-size="7.1" text-anchor="middle">1</text>
<text x="489.84" y="338.70" font-size="7.1" text-anchor="middle">0.1</text>
<line x1="509.08" y1="336.60" x2="512.88" y2="336.60" stroke="#a4a4a4" stroke-width="0.6"/>
<line x1="530.22" y1="336.60" x2="534.02" y2="336.60" stroke="#a4a4a4" stroke-width="0.6"/>
<line x1="361.10" y1="349.70" x2="364.90" y2="349.70" stroke="#a4a4a4" stroke-width="0.6"/>
<line x1="382.24" y1="349.70" x2="386.04" y2="349.70" stroke="#a4a4a4" stroke-width="0.6"/>
<line x1="403.38" y1="349.70" x2="407.18" y2="349.70" stroke="#a4a4a4" stroke-width="0.6"/>
<line x1="424.52" y1="349.70" x2="428.32" y2="349.70" stroke="#a4a4a4" stroke-width="0.6"/>
<line x1="445.66" y1="349.70" x2="449.46" y2="349.70" stroke="#a4a4a4" stroke-width="0.6"/>
<line x1="466.80" y1="349.70" x2="470.60" y2="349.70" stroke="#a4a4a4" stroke-width="0.6"/>
<line x1="487.94" y1="349.70" x2="491.74" y2="349.70" stroke="#a4a4a4" stroke-width="0.6"/>
<text x="510.98" y="351.80" font-size="7.1" text-anchor="middle">1</text>
<text x="532.12" y="351.80" font-size="7.1" text-anchor="middle">0.1</text>
</svg>
</body></html>
